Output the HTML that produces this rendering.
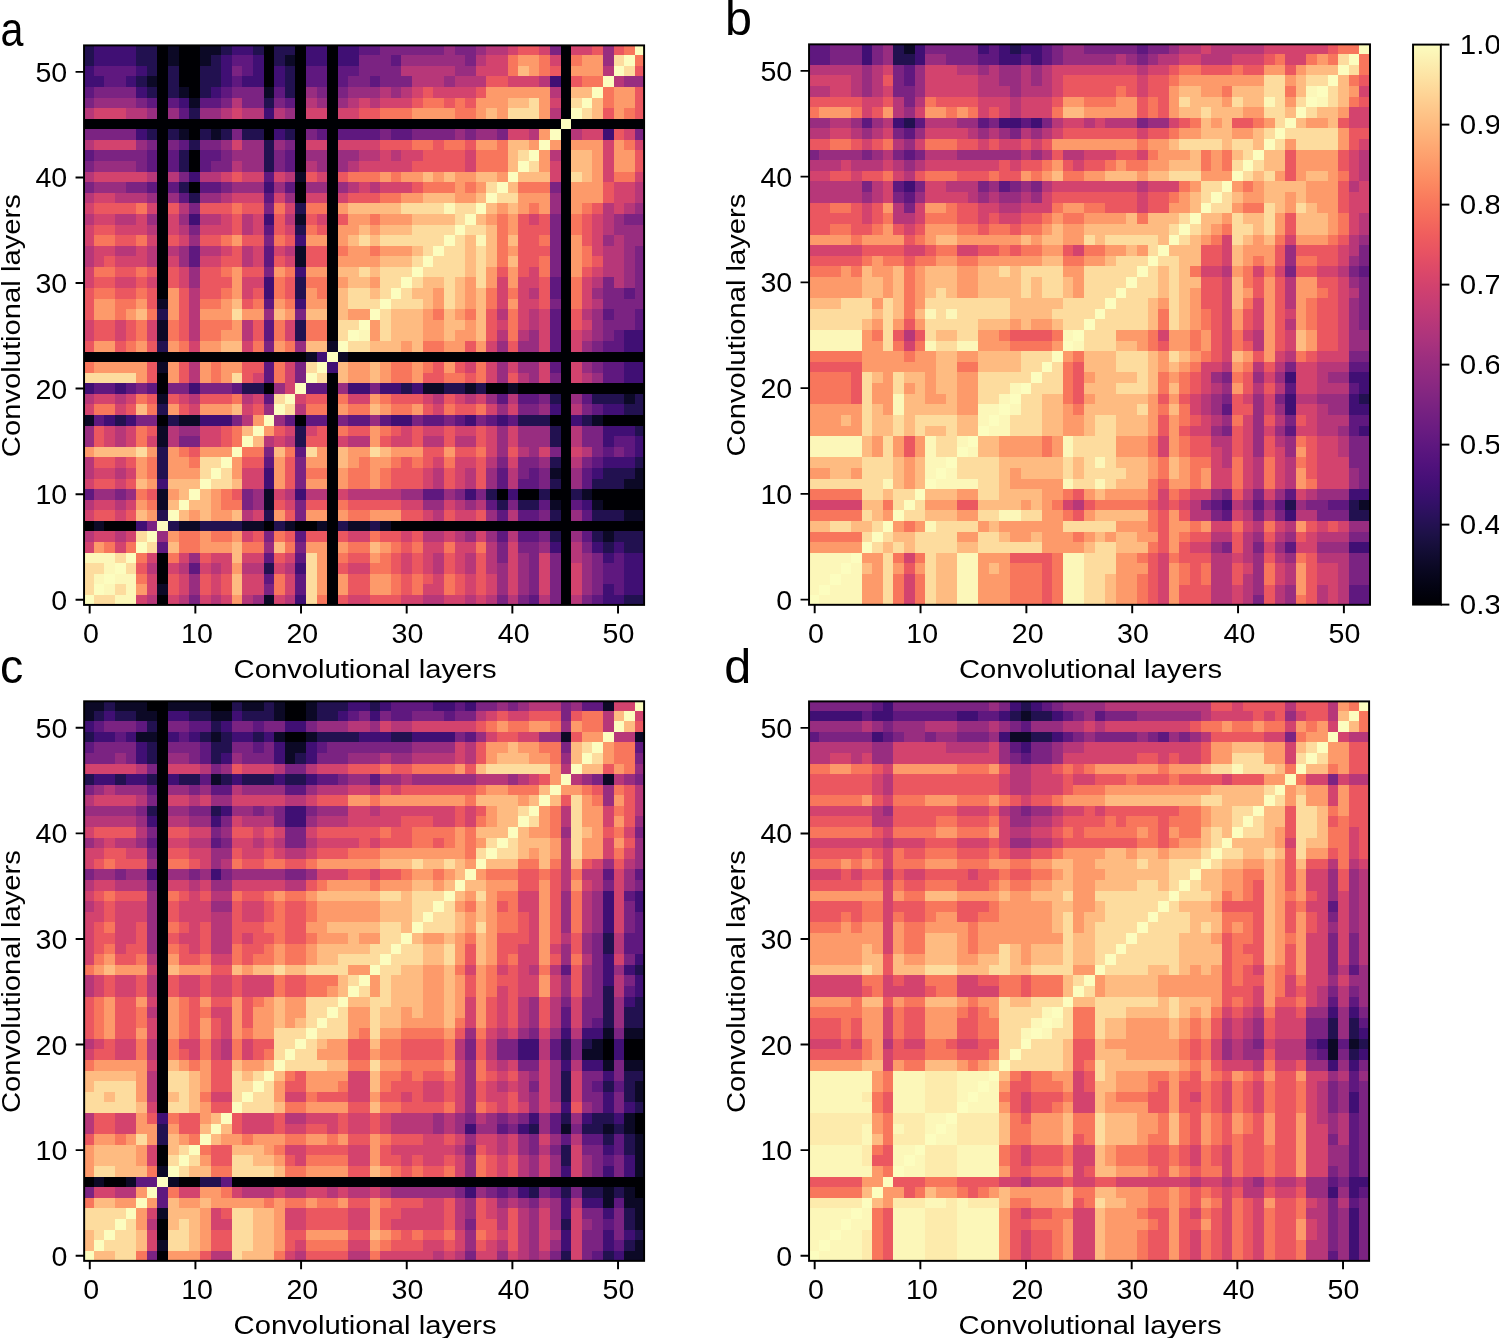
<!DOCTYPE html><html><head><meta charset="utf-8"><style>html,body{margin:0;padding:0;background:#fff;overflow:hidden}svg{display:block;will-change:transform}</style></head><body><svg width="1499" height="1338" viewBox="0 0 1499 1338">
<style>.s0{stroke:#000004}.s1{stroke:#0c0926}.s2{stroke:#221150}.s3{stroke:#400f74}.s4{stroke:#5f187f}.s5{stroke:#7b2382}.s6{stroke:#982d80}.s7{stroke:#b73779}.s8{stroke:#d3436e}.s9{stroke:#eb5760}.sa{stroke:#f8765c}.sb{stroke:#fd9a6a}.sc{stroke:#febb81}.sd{stroke:#fddc9e}.se{stroke:#fcfdbf}.sf{stroke:#fdebac}.sg{stroke:#fcf7b9} path{fill:none} .t{font-family:"Liberation Sans", sans-serif;font-size:27.5px;fill:#000} .l{font-family:"Liberation Sans", sans-serif;font-size:26.5px;fill:#000} .L{font-family:"Liberation Sans", sans-serif;font-size:48.5px;fill:#000} g{shape-rendering:crispEdges}</style>
<rect width="1499" height="1338" fill="#fff"/>
<clipPath id="cpa"><rect x="84.05" y="45.40" width="560.05" height="559.50"/></clipPath>
<g clip-path="url(#cpa)">
<g transform="translate(83.20,44.63) scale(10.6094,10.5840)" stroke-width="1">
<path class="s0" d="M7 0.5h1M9 0.5h2M17 0.5h1M20 0.5h1M23 0.5h1M45 0.5h1M7 1.5h1M9 1.5h2M17 1.5h1M20 1.5h1M23 1.5h1M45 1.5h1M7 2.5h1M9 2.5h2M17 2.5h1M20 2.5h1M23 2.5h1M45 2.5h1M7 3.5h1M9 3.5h2M17 3.5h1M20 3.5h1M23 3.5h1M45 3.5h1M7 4.5h1M10 4.5h1M20 4.5h1M23 4.5h1M45 4.5h1M7 5.5h1M20 5.5h1M23 5.5h1M45 5.5h1M7 6.5h1M20 6.5h1M23 6.5h1M45 6.5h1M0 7.5h45M46 7.5h7M7 8.5h1M10 8.5h1M17 8.5h1M20 8.5h1M23 8.5h1M45 8.5h1M7 9.5h1M20 9.5h1M23 9.5h1M45 9.5h1M7 10.5h1M10 10.5h1M20 10.5h1M23 10.5h1M45 10.5h1M7 11.5h1M10 11.5h1M20 11.5h1M23 11.5h1M45 11.5h1M7 12.5h1M23 12.5h1M45 12.5h1M7 13.5h1M10 13.5h1M20 13.5h1M23 13.5h1M45 13.5h1M7 14.5h1M20 14.5h1M23 14.5h1M45 14.5h1M7 15.5h1M23 15.5h1M45 15.5h1M7 16.5h1M23 16.5h1M45 16.5h1M7 17.5h1M23 17.5h1M45 17.5h1M7 18.5h1M23 18.5h1M45 18.5h1M7 19.5h1M23 19.5h1M45 19.5h1M7 20.5h1M23 20.5h1M45 20.5h1M7 21.5h1M23 21.5h1M45 21.5h1M7 22.5h1M23 22.5h1M45 22.5h1M7 23.5h1M23 23.5h1M45 23.5h1M23 24.5h1M45 24.5h1M23 25.5h1M45 25.5h1M23 26.5h1M45 26.5h1M23 27.5h1M45 27.5h1M45 28.5h1M0 29.5h21M25 29.5h28M45 30.5h1M7 31.5h1M23 31.5h1M45 31.5h1M7 32.5h1M17 32.5h1M23 32.5h1M38 32.5h2M41 32.5h12M23 33.5h1M45 33.5h1M23 34.5h1M45 34.5h1M7 35.5h1M20 35.5h1M23 35.5h1M44 35.5h2M49 35.5h4M23 36.5h1M45 36.5h1M23 37.5h1M45 37.5h1M23 38.5h1M45 38.5h1M23 39.5h1M45 39.5h1M23 40.5h1M45 40.5h1M23 41.5h1M45 41.5h1M23 42.5h1M39 42.5h1M41 42.5h2M44 42.5h2M48 42.5h5M23 43.5h1M45 43.5h1M49 43.5h4M23 44.5h1M45 44.5h1M0 45.5h1M2 45.5h3M17 45.5h1M20 45.5h2M23 45.5h1M29 45.5h24M23 46.5h1M45 46.5h1M23 47.5h1M45 47.5h1M7 48.5h1M23 48.5h1M45 48.5h1M7 49.5h1M23 49.5h1M45 49.5h1M7 50.5h1M23 50.5h1M45 50.5h1M23 51.5h1M45 51.5h1M7 52.5h1M23 52.5h1M45 52.5h1"/>
<path class="s1" d="M8 0.5h1M11 0.5h2M8 1.5h1M11 1.5h1M19 1.5h1M6 3.5h1M9 4.5h1M17 4.5h1M10 5.5h1M9 8.5h1M12 8.5h1M20 12.5h1M20 16.5h1M20 19.5h1M20 20.5h1M7 24.5h1M7 26.5h1M7 27.5h1M23 28.5h1M21 29.5h1M24 29.5h1M7 30.5h1M32 32.5h2M36 32.5h1M40 32.5h1M7 33.5h1M51 33.5h1M0 35.5h1M9 35.5h2M48 35.5h1M7 36.5h1M7 37.5h1M44 40.5h1M52 40.5h1M51 41.5h2M7 42.5h1M17 42.5h1M47 42.5h1M7 43.5h1M17 43.5h1M44 43.5h1M48 43.5h1M51 44.5h2M1 45.5h1M9 45.5h2M15 45.5h2M19 45.5h1M22 45.5h1M25 45.5h2M28 45.5h1M49 46.5h1M7 51.5h1M17 52.5h1"/>
<path class="s2" d="M0 0.5h1M5 0.5h2M13 0.5h1M16 0.5h1M18 0.5h2M0 1.5h1M5 1.5h2M12 1.5h1M18 1.5h1M6 2.5h1M8 2.5h1M11 2.5h2M19 2.5h1M5 3.5h1M8 3.5h1M11 3.5h2M19 3.5h1M6 4.5h1M8 4.5h1M11 4.5h1M19 4.5h1M17 5.5h1M10 6.5h1M6 8.5h1M8 8.5h1M11 8.5h1M13 8.5h1M15 8.5h2M19 8.5h1M10 9.5h1M17 9.5h1M9 10.5h1M17 10.5h1M9 11.5h1M17 11.5h1M9 13.5h1M10 14.5h1M20 15.5h1M20 17.5h1M20 22.5h1M20 23.5h1M7 25.5h1M20 26.5h1M20 27.5h1M7 28.5h1M15 32.5h2M30 32.5h1M34 32.5h2M37 32.5h1M44 33.5h1M48 33.5h3M52 33.5h1M7 34.5h1M51 34.5h2M3 35.5h1M8 35.5h1M41 35.5h3M47 35.5h1M20 36.5h1M44 36.5h1M52 36.5h1M20 37.5h1M44 37.5h1M7 38.5h1M7 39.5h1M44 39.5h1M52 39.5h1M7 40.5h1M49 40.5h3M44 41.5h1M48 41.5h3M38 42.5h1M43 42.5h1M46 42.5h1M39 43.5h1M41 43.5h2M7 44.5h1M17 44.5h1M44 44.5h1M48 44.5h3M8 45.5h1M11 45.5h4M18 45.5h1M24 45.5h1M27 45.5h1M44 46.5h1M48 46.5h1M50 46.5h3M49 47.5h1M51 47.5h2M17 49.5h1M51 52.5h2"/>
<path class="s3" d="M1 0.5h4M14 0.5h2M21 0.5h2M24 0.5h2M1 1.5h4M13 1.5h1M16 1.5h1M21 1.5h2M24 1.5h2M0 2.5h1M5 2.5h1M13 2.5h1M16 2.5h1M18 2.5h1M0 3.5h2M4 3.5h1M13 3.5h1M15 3.5h2M18 3.5h1M44 3.5h1M5 4.5h1M12 4.5h1M9 5.5h1M17 6.5h1M5 8.5h1M18 8.5h1M49 8.5h1M10 12.5h1M17 13.5h1M10 16.5h1M17 16.5h1M20 18.5h1M20 21.5h1M17 22.5h1M17 23.5h1M20 24.5h1M51 27.5h2M51 28.5h2M22 29.5h1M23 30.5h1M51 30.5h2M51 31.5h2M0 32.5h1M3 32.5h1M10 32.5h1M25 32.5h2M28 32.5h2M31 32.5h1M44 34.5h1M49 34.5h2M2 35.5h1M4 35.5h1M11 35.5h3M29 35.5h2M36 35.5h1M39 35.5h1M46 35.5h1M49 36.5h3M49 37.5h1M52 37.5h1M52 38.5h1M49 39.5h3M17 40.5h1M48 40.5h1M7 41.5h1M17 41.5h1M20 42.5h1M36 42.5h1M40 42.5h1M47 43.5h1M5 45.5h1M44 47.5h1M48 47.5h1M50 47.5h1M49 48.5h1M51 48.5h2M20 49.5h1M51 49.5h2M51 50.5h2M49 51.5h1M51 51.5h2M20 52.5h1M49 52.5h2"/>
<path class="s4" d="M26 0.5h2M14 1.5h2M29 1.5h1M1 2.5h4M15 2.5h1M21 2.5h2M24 2.5h2M2 3.5h2M14 3.5h1M21 3.5h2M24 3.5h1M27 3.5h1M0 4.5h1M13 4.5h1M18 4.5h1M6 5.5h1M8 5.5h1M11 5.5h2M19 5.5h1M9 6.5h1M22 8.5h1M24 8.5h4M29 8.5h2M9 9.5h1M0 10.5h1M6 10.5h1M8 10.5h1M11 10.5h2M19 10.5h1M6 11.5h1M8 11.5h1M11 11.5h1M19 11.5h1M17 12.5h1M6 13.5h1M8 13.5h1M11 13.5h2M19 13.5h1M9 14.5h1M17 14.5h1M17 17.5h1M10 19.5h1M17 19.5h1M10 20.5h1M17 20.5h1M44 22.5h1M44 23.5h1M51 23.5h1M17 24.5h1M44 25.5h1M49 25.5h1M52 25.5h1M17 26.5h1M44 26.5h1M52 26.5h1M17 27.5h1M44 27.5h1M50 27.5h1M44 28.5h1M49 28.5h2M17 30.5h1M44 30.5h1M49 30.5h2M17 31.5h1M49 31.5h2M1 32.5h2M4 32.5h1M6 32.5h1M14 32.5h1M21 32.5h2M17 33.5h1M39 33.5h1M41 33.5h2M47 33.5h1M48 34.5h1M1 35.5h1M19 35.5h1M21 35.5h2M25 35.5h2M28 35.5h1M32 35.5h2M35 35.5h1M38 35.5h1M40 35.5h1M50 37.5h2M20 38.5h1M49 38.5h1M51 38.5h1M17 39.5h1M48 39.5h1M39 40.5h1M42 40.5h1M47 40.5h1M39 41.5h1M41 41.5h2M47 41.5h1M0 42.5h1M32 42.5h2M38 43.5h1M43 43.5h1M46 43.5h1M39 44.5h1M41 44.5h2M47 44.5h1M20 46.5h1M39 46.5h1M41 46.5h2M47 46.5h1M7 47.5h1M17 48.5h1M20 48.5h1M50 48.5h1M10 49.5h1M49 49.5h2M17 50.5h1M20 50.5h1M49 50.5h2M20 51.5h1M50 51.5h1M42 52.5h1M48 52.5h1"/>
<path class="s5" d="M28 0.5h6M35 0.5h2M44 0.5h1M26 1.5h3M36 1.5h1M14 2.5h1M26 2.5h4M25 3.5h2M28 3.5h3M1 4.5h4M14 4.5h3M22 4.5h1M24 4.5h1M0 5.5h1M5 5.5h1M13 5.5h1M15 5.5h2M18 5.5h1M0 8.5h5M14 8.5h1M21 8.5h1M28 8.5h1M31 8.5h4M36 8.5h1M39 8.5h1M52 8.5h1M6 9.5h1M8 9.5h1M11 9.5h2M19 9.5h1M1 10.5h5M13 10.5h1M18 10.5h1M0 11.5h1M5 11.5h1M12 11.5h2M18 11.5h1M9 12.5h1M0 13.5h1M4 13.5h2M13 13.5h1M44 13.5h1M10 15.5h1M17 15.5h1M44 16.5h1M51 16.5h2M10 17.5h1M44 17.5h1M17 18.5h1M44 18.5h1M44 19.5h1M52 19.5h1M44 20.5h1M52 20.5h1M17 21.5h1M44 21.5h1M52 21.5h1M49 22.5h1M52 22.5h1M49 23.5h2M52 23.5h1M44 24.5h1M49 24.5h4M20 25.5h1M50 25.5h2M49 26.5h3M49 27.5h1M17 28.5h1M48 28.5h1M20 30.5h1M48 30.5h1M20 31.5h1M44 31.5h1M5 32.5h1M8 32.5h2M11 32.5h3M27 32.5h1M43 33.5h1M41 34.5h2M47 34.5h1M5 35.5h2M14 35.5h1M24 35.5h1M31 35.5h1M34 35.5h1M37 35.5h1M47 36.5h2M9 37.5h2M47 37.5h2M17 38.5h1M44 38.5h1M48 38.5h1M50 38.5h1M20 39.5h1M39 39.5h1M41 39.5h2M47 39.5h1M20 40.5h1M41 40.5h1M43 40.5h1M20 41.5h1M43 41.5h1M3 42.5h1M15 42.5h1M35 42.5h1M37 42.5h1M15 43.5h1M20 43.5h1M40 43.5h1M20 44.5h1M43 44.5h1M6 45.5h1M17 46.5h1M43 46.5h1M20 47.5h1M39 47.5h1M41 47.5h2M47 47.5h1M39 48.5h1M42 48.5h1M44 48.5h1M48 48.5h1M42 49.5h1M44 49.5h1M48 49.5h1M42 50.5h1M44 50.5h1M48 50.5h1M17 51.5h1M42 51.5h1M44 51.5h1M48 51.5h1M10 52.5h1M39 52.5h1M41 52.5h1M44 52.5h1M47 52.5h1"/>
<path class="s6" d="M34 0.5h1M37 0.5h1M49 0.5h1M30 1.5h6M49 1.5h1M35 2.5h2M34 3.5h1M51 3.5h2M21 4.5h1M25 4.5h3M29 4.5h1M1 5.5h4M22 5.5h1M24 5.5h1M6 6.5h1M8 6.5h1M11 6.5h2M19 6.5h1M35 8.5h1M37 8.5h2M5 9.5h1M13 9.5h1M15 9.5h2M18 9.5h1M14 10.5h3M21 10.5h2M24 10.5h2M1 11.5h4M15 11.5h2M22 11.5h1M24 11.5h1M1 13.5h3M14 13.5h3M18 13.5h1M21 13.5h2M24 13.5h1M6 14.5h1M8 14.5h1M11 14.5h2M19 14.5h1M44 14.5h1M44 15.5h1M52 15.5h1M6 16.5h1M9 16.5h1M50 16.5h1M50 17.5h3M10 18.5h1M49 18.5h1M51 18.5h2M9 19.5h1M51 19.5h1M9 20.5h1M51 20.5h1M10 21.5h1M51 21.5h1M10 22.5h1M51 22.5h1M48 23.5h1M17 25.5h1M48 25.5h1M48 26.5h1M42 27.5h1M48 27.5h1M20 28.5h1M39 28.5h1M41 28.5h2M47 28.5h1M39 30.5h1M41 30.5h2M47 30.5h1M39 31.5h1M42 31.5h1M48 31.5h1M18 32.5h1M24 32.5h1M38 33.5h1M46 33.5h1M17 34.5h1M39 34.5h1M43 34.5h1M18 35.5h1M27 35.5h1M0 36.5h1M9 36.5h2M39 36.5h1M41 36.5h3M0 37.5h1M39 37.5h1M41 37.5h3M39 38.5h1M42 38.5h1M43 39.5h1M38 40.5h1M46 40.5h1M38 41.5h1M46 41.5h1M1 42.5h2M4 42.5h1M16 42.5h1M30 42.5h2M34 42.5h1M16 43.5h1M32 43.5h2M36 43.5h1M38 44.5h1M46 44.5h1M7 46.5h1M36 46.5h1M38 46.5h1M46 46.5h1M17 47.5h1M43 47.5h1M10 48.5h1M41 48.5h1M47 48.5h1M39 49.5h1M41 49.5h1M47 49.5h1M10 50.5h1M39 50.5h1M41 50.5h1M47 50.5h1M10 51.5h1M39 51.5h1M41 51.5h1M47 51.5h1M16 52.5h1"/>
<path class="s7" d="M38 0.5h2M37 1.5h1M30 2.5h5M49 2.5h1M31 3.5h3M35 3.5h3M43 3.5h1M50 3.5h1M28 4.5h1M30 4.5h1M44 4.5h1M14 5.5h1M21 5.5h1M25 5.5h1M27 5.5h1M0 6.5h1M4 6.5h2M13 6.5h1M15 6.5h2M18 6.5h1M44 6.5h1M42 8.5h1M46 8.5h1M0 9.5h1M26 10.5h2M29 10.5h1M44 10.5h1M14 11.5h1M21 11.5h1M25 11.5h1M0 12.5h1M6 12.5h1M8 12.5h1M11 12.5h2M19 12.5h1M25 13.5h1M27 13.5h1M52 13.5h1M0 14.5h1M3 14.5h3M13 14.5h1M52 14.5h1M9 15.5h1M49 15.5h1M51 15.5h1M0 16.5h1M3 16.5h2M11 16.5h2M15 16.5h1M19 16.5h1M49 16.5h1M6 17.5h1M9 17.5h1M15 17.5h1M49 17.5h1M50 18.5h1M0 19.5h1M3 19.5h2M6 19.5h1M8 19.5h1M11 19.5h2M15 19.5h1M19 19.5h1M49 19.5h2M0 20.5h1M6 20.5h1M15 20.5h1M49 20.5h2M49 21.5h2M48 22.5h1M50 22.5h1M10 23.5h1M42 23.5h1M10 24.5h1M48 24.5h1M10 25.5h1M39 25.5h1M42 25.5h1M47 25.5h1M10 26.5h1M15 26.5h1M42 26.5h1M10 27.5h1M15 27.5h1M39 27.5h1M41 27.5h1M47 27.5h1M10 30.5h1M10 31.5h1M41 31.5h1M47 31.5h1M0 33.5h1M3 33.5h1M10 33.5h1M15 33.5h1M33 33.5h1M36 33.5h1M40 33.5h1M20 34.5h1M46 34.5h1M15 35.5h1M3 36.5h1M8 36.5h1M46 36.5h1M3 37.5h1M8 37.5h1M17 37.5h1M19 37.5h1M25 37.5h2M32 37.5h2M35 37.5h2M46 37.5h1M41 38.5h1M47 38.5h1M0 39.5h1M38 39.5h1M46 39.5h1M0 40.5h1M3 40.5h1M33 40.5h1M36 40.5h1M40 40.5h1M33 41.5h1M36 41.5h1M40 41.5h1M19 42.5h1M21 42.5h2M25 42.5h5M0 43.5h1M3 43.5h1M35 43.5h1M37 43.5h1M15 44.5h1M33 44.5h1M40 44.5h1M0 46.5h1M3 46.5h1M32 46.5h2M35 46.5h1M40 46.5h1M38 47.5h1M46 47.5h1M33 48.5h1M36 48.5h1M38 48.5h1M46 48.5h1M6 49.5h1M9 49.5h1M12 49.5h1M15 49.5h2M19 49.5h1M33 49.5h1M36 49.5h1M38 49.5h1M6 52.5h1M9 52.5h1M12 52.5h1M15 52.5h1M19 52.5h1M32 52.5h2M36 52.5h1M38 52.5h1M40 52.5h1M43 52.5h1M46 52.5h1"/>
<path class="s8" d="M40 0.5h1M43 0.5h1M46 0.5h2M38 1.5h2M44 1.5h1M37 2.5h3M40 3.5h3M31 4.5h1M33 4.5h4M26 5.5h1M28 5.5h3M44 5.5h1M1 6.5h3M14 6.5h1M21 6.5h2M24 6.5h2M40 8.5h2M47 8.5h2M51 8.5h1M1 9.5h4M14 9.5h1M21 9.5h2M24 9.5h4M49 9.5h1M52 9.5h1M28 10.5h1M30 10.5h2M36 10.5h1M49 10.5h1M26 11.5h5M36 11.5h1M44 11.5h1M49 11.5h1M1 12.5h5M13 12.5h1M15 12.5h2M18 12.5h1M22 12.5h1M44 12.5h1M49 12.5h1M52 12.5h1M26 13.5h1M28 13.5h3M50 13.5h2M1 14.5h2M14 14.5h3M18 14.5h1M21 14.5h2M24 14.5h1M50 14.5h2M0 15.5h1M6 15.5h1M19 15.5h1M50 15.5h1M1 16.5h2M5 16.5h1M8 16.5h1M13 16.5h1M16 16.5h1M22 16.5h1M42 16.5h1M48 16.5h1M0 17.5h1M3 17.5h3M8 17.5h1M11 17.5h3M16 17.5h1M19 17.5h1M48 17.5h1M0 18.5h1M6 18.5h1M9 18.5h1M48 18.5h1M1 19.5h2M5 19.5h1M13 19.5h1M16 19.5h1M18 19.5h1M48 19.5h1M1 20.5h1M3 20.5h3M8 20.5h1M11 20.5h2M16 20.5h1M19 20.5h1M0 21.5h1M9 21.5h1M42 21.5h1M48 21.5h1M0 22.5h1M3 22.5h2M6 22.5h1M9 22.5h1M15 22.5h2M39 22.5h1M41 22.5h2M47 22.5h1M15 23.5h1M39 23.5h1M41 23.5h1M47 23.5h1M39 24.5h1M41 24.5h2M47 24.5h1M41 25.5h1M43 25.5h1M0 26.5h1M3 26.5h1M6 26.5h1M19 26.5h1M39 26.5h1M41 26.5h1M43 26.5h1M47 26.5h1M0 27.5h1M3 27.5h1M6 27.5h1M19 27.5h1M43 27.5h1M46 27.5h1M10 28.5h1M15 28.5h1M38 28.5h1M43 28.5h1M46 28.5h1M19 30.5h1M36 30.5h1M38 30.5h1M40 30.5h1M43 30.5h1M46 30.5h1M16 31.5h1M19 31.5h1M38 31.5h1M43 31.5h1M46 31.5h1M19 32.5h1M1 33.5h2M4 33.5h1M9 33.5h1M16 33.5h1M20 33.5h1M25 33.5h2M32 33.5h1M35 33.5h1M37 33.5h1M0 34.5h1M3 34.5h1M10 34.5h1M15 34.5h1M33 34.5h1M38 34.5h1M40 34.5h1M2 36.5h1M4 36.5h1M11 36.5h2M19 36.5h1M21 36.5h1M30 36.5h1M32 36.5h2M35 36.5h2M38 36.5h1M40 36.5h1M2 37.5h1M4 37.5h1M6 37.5h1M11 37.5h2M18 37.5h1M24 37.5h1M29 37.5h2M38 37.5h1M40 37.5h1M38 38.5h1M43 38.5h1M46 38.5h1M3 39.5h1M33 39.5h1M35 39.5h2M40 39.5h1M1 40.5h2M4 40.5h1M15 40.5h2M32 40.5h1M35 40.5h1M0 41.5h1M3 41.5h1M15 41.5h2M32 41.5h1M35 41.5h1M18 42.5h1M24 42.5h1M1 43.5h2M4 43.5h1M19 43.5h1M30 43.5h2M34 43.5h1M0 44.5h1M3 44.5h1M16 44.5h1M32 44.5h1M35 44.5h2M1 46.5h2M4 46.5h1M15 46.5h1M25 46.5h2M30 46.5h1M34 46.5h1M37 46.5h1M0 47.5h1M3 47.5h1M32 47.5h2M35 47.5h2M40 47.5h1M6 48.5h1M9 48.5h1M12 48.5h2M15 48.5h2M19 48.5h1M30 48.5h1M32 48.5h1M35 48.5h1M40 48.5h1M43 48.5h1M8 49.5h1M11 49.5h1M13 49.5h1M18 49.5h1M25 49.5h2M30 49.5h1M32 49.5h1M35 49.5h1M40 49.5h1M43 49.5h1M46 49.5h1M6 50.5h1M9 50.5h1M12 50.5h1M15 50.5h2M19 50.5h1M33 50.5h1M36 50.5h1M38 50.5h1M40 50.5h1M43 50.5h1M46 50.5h1M6 51.5h1M9 51.5h1M12 51.5h1M15 51.5h2M19 51.5h1M32 51.5h2M36 51.5h1M38 51.5h1M40 51.5h1M43 51.5h1M46 51.5h1M5 52.5h1M8 52.5h1M11 52.5h1M13 52.5h1M18 52.5h1M25 52.5h2M30 52.5h2M34 52.5h2M37 52.5h1"/>
<path class="s9" d="M41 0.5h2M48 0.5h1M50 0.5h1M44 2.5h1M52 2.5h1M38 3.5h2M46 3.5h1M32 4.5h1M37 4.5h1M52 4.5h1M31 5.5h1M34 5.5h1M36 5.5h1M52 5.5h1M26 6.5h2M49 6.5h1M52 6.5h1M50 8.5h1M28 9.5h3M33 9.5h1M36 9.5h1M32 10.5h4M52 10.5h1M31 11.5h5M52 11.5h1M14 12.5h1M21 12.5h1M24 12.5h1M31 13.5h1M49 13.5h1M25 14.5h3M49 14.5h1M1 15.5h4M8 15.5h1M11 15.5h3M15 15.5h2M48 15.5h1M14 16.5h1M18 16.5h1M21 16.5h1M24 16.5h1M41 16.5h1M43 16.5h1M47 16.5h1M1 17.5h2M14 17.5h1M18 17.5h1M22 17.5h1M41 17.5h3M47 17.5h1M3 18.5h2M8 18.5h1M11 18.5h2M15 18.5h2M19 18.5h1M41 18.5h2M47 18.5h1M14 19.5h1M21 19.5h2M41 19.5h3M2 20.5h1M13 20.5h2M18 20.5h1M21 20.5h2M41 20.5h2M48 20.5h1M3 21.5h2M6 21.5h1M8 21.5h1M11 21.5h2M15 21.5h2M39 21.5h1M41 21.5h1M47 21.5h1M1 22.5h2M5 22.5h1M8 22.5h1M11 22.5h3M19 22.5h1M43 22.5h1M0 23.5h1M3 23.5h2M6 23.5h1M9 23.5h1M11 23.5h2M16 23.5h1M19 23.5h1M43 23.5h1M0 24.5h1M6 24.5h1M9 24.5h1M15 24.5h1M43 24.5h1M0 25.5h1M9 25.5h1M38 25.5h1M46 25.5h1M1 26.5h2M4 26.5h1M9 26.5h1M16 26.5h1M38 26.5h1M46 26.5h1M1 27.5h2M4 27.5h1M9 27.5h1M16 27.5h1M38 27.5h1M0 28.5h1M3 28.5h1M6 28.5h1M36 28.5h1M40 28.5h1M6 30.5h1M9 30.5h1M15 30.5h2M33 30.5h1M35 30.5h1M6 31.5h1M9 31.5h1M15 31.5h1M32 31.5h2M36 31.5h1M40 31.5h1M6 33.5h1M8 33.5h1M11 33.5h3M21 33.5h2M29 33.5h3M34 33.5h1M4 34.5h1M9 34.5h1M16 34.5h1M32 34.5h1M35 34.5h2M1 36.5h1M6 36.5h1M13 36.5h1M18 36.5h1M22 36.5h1M25 36.5h2M29 36.5h1M31 36.5h1M34 36.5h1M37 36.5h1M1 37.5h1M13 37.5h1M21 37.5h2M28 37.5h1M31 37.5h1M34 37.5h1M37 37.5h1M10 38.5h1M32 38.5h2M35 38.5h2M40 38.5h1M1 39.5h2M4 39.5h1M15 39.5h2M19 39.5h1M30 39.5h1M32 39.5h1M37 39.5h1M19 40.5h1M29 40.5h3M34 40.5h1M37 40.5h1M1 41.5h2M4 41.5h1M19 41.5h1M29 41.5h3M34 41.5h1M37 41.5h1M6 42.5h1M14 42.5h1M18 43.5h1M21 43.5h2M25 43.5h5M1 44.5h2M4 44.5h1M19 44.5h1M30 44.5h2M34 44.5h1M37 44.5h1M16 46.5h1M19 46.5h1M21 46.5h2M24 46.5h1M28 46.5h2M31 46.5h1M30 47.5h1M11 48.5h1M18 48.5h1M25 48.5h2M29 48.5h1M31 48.5h1M34 48.5h1M37 48.5h1M5 49.5h1M24 49.5h1M29 49.5h1M31 49.5h1M34 49.5h1M37 49.5h1M8 50.5h1M11 50.5h1M13 50.5h1M25 50.5h2M30 50.5h1M32 50.5h1M35 50.5h1M37 50.5h1M8 51.5h1M11 51.5h1M13 51.5h1M25 51.5h2M30 51.5h1M35 51.5h1M37 51.5h1M24 52.5h1M27 52.5h3"/>
<path class="sa" d="M51 0.5h1M40 1.5h1M43 1.5h1M46 1.5h1M52 1.5h1M40 2.5h1M43 2.5h1M47 3.5h2M49 4.5h1M32 5.5h2M35 5.5h1M49 5.5h1M28 6.5h3M35 6.5h2M51 6.5h1M31 9.5h2M34 9.5h2M39 9.5h1M51 9.5h1M37 10.5h3M37 11.5h3M25 12.5h3M29 12.5h1M50 12.5h2M32 13.5h3M36 13.5h1M41 13.5h3M28 14.5h2M5 15.5h1M14 15.5h1M18 15.5h1M21 15.5h2M42 15.5h1M47 15.5h1M27 16.5h1M39 16.5h1M46 16.5h1M21 17.5h1M39 17.5h1M46 17.5h1M1 18.5h2M5 18.5h1M13 18.5h1M18 18.5h1M39 18.5h1M43 18.5h1M24 19.5h1M27 19.5h1M39 19.5h1M47 19.5h1M39 20.5h1M43 20.5h1M47 20.5h1M1 21.5h2M5 21.5h1M13 21.5h1M19 21.5h1M43 21.5h1M18 22.5h1M21 22.5h2M46 22.5h1M1 23.5h2M5 23.5h1M13 23.5h1M18 23.5h1M22 23.5h1M38 23.5h1M40 23.5h1M46 23.5h1M3 24.5h2M11 24.5h2M16 24.5h1M19 24.5h1M38 24.5h1M46 24.5h1M3 25.5h1M6 25.5h1M33 25.5h1M36 25.5h1M40 25.5h1M5 26.5h1M8 26.5h1M11 26.5h3M18 26.5h1M21 26.5h2M40 26.5h1M5 27.5h1M8 27.5h1M11 27.5h2M18 27.5h1M21 27.5h2M40 27.5h1M4 28.5h1M9 28.5h1M16 28.5h1M19 28.5h1M32 28.5h2M0 30.5h1M12 30.5h1M18 30.5h1M29 30.5h2M32 30.5h1M37 30.5h1M12 31.5h1M18 31.5h1M29 31.5h2M34 31.5h2M37 31.5h1M5 33.5h1M14 33.5h1M24 33.5h1M28 33.5h1M1 34.5h2M6 34.5h1M21 34.5h2M25 34.5h2M29 34.5h2M34 34.5h1M37 34.5h1M5 36.5h1M14 36.5h1M24 36.5h1M28 36.5h1M5 37.5h1M14 37.5h1M9 38.5h1M15 38.5h2M19 38.5h1M37 38.5h1M6 39.5h1M10 39.5h1M26 39.5h1M29 39.5h1M31 39.5h1M34 39.5h1M6 40.5h1M21 40.5h2M25 40.5h2M28 40.5h1M25 41.5h2M28 41.5h1M5 42.5h1M13 42.5h1M6 43.5h1M13 43.5h2M24 43.5h1M25 44.5h2M9 46.5h2M12 46.5h2M18 46.5h1M27 46.5h1M2 47.5h1M4 47.5h1M9 47.5h2M15 47.5h2M19 47.5h1M25 47.5h2M29 47.5h1M31 47.5h1M34 47.5h1M37 47.5h1M5 48.5h1M8 48.5h1M24 48.5h1M28 48.5h1M27 49.5h2M5 50.5h1M18 50.5h1M29 50.5h1M31 50.5h1M34 50.5h1M18 51.5h1M29 51.5h1M31 51.5h1M34 51.5h1M22 52.5h1"/>
<path class="sb" d="M41 1.5h2M47 1.5h2M42 2.5h1M46 2.5h3M38 4.5h6M50 4.5h2M37 5.5h3M43 5.5h1M50 5.5h2M31 6.5h4M37 6.5h1M39 6.5h1M43 6.5h1M50 6.5h1M43 8.5h1M37 9.5h2M42 9.5h1M44 9.5h1M46 9.5h3M50 9.5h1M43 10.5h1M48 10.5h1M50 10.5h2M43 11.5h1M48 11.5h1M50 11.5h2M28 12.5h1M30 12.5h2M33 12.5h1M35 12.5h2M39 12.5h1M48 12.5h1M35 13.5h1M37 13.5h1M46 13.5h3M30 14.5h2M35 14.5h2M41 14.5h3M46 14.5h3M24 15.5h1M39 15.5h1M41 15.5h1M43 15.5h1M46 15.5h1M25 16.5h2M28 16.5h3M38 16.5h1M40 16.5h1M24 17.5h2M27 17.5h1M40 17.5h1M14 18.5h1M21 18.5h2M24 18.5h1M46 18.5h1M25 19.5h2M28 19.5h3M40 19.5h1M46 19.5h1M24 20.5h4M46 20.5h1M14 21.5h1M18 21.5h1M21 21.5h2M38 21.5h1M40 21.5h1M46 21.5h1M14 22.5h1M24 22.5h1M27 22.5h1M36 22.5h1M38 22.5h1M40 22.5h1M8 23.5h1M14 23.5h1M21 23.5h1M33 23.5h1M36 23.5h1M1 24.5h2M5 24.5h1M8 24.5h1M13 24.5h1M18 24.5h1M21 24.5h2M33 24.5h1M36 24.5h1M40 24.5h1M1 25.5h2M4 25.5h1M8 25.5h1M11 25.5h3M15 25.5h2M19 25.5h1M25 25.5h2M32 25.5h1M35 25.5h1M14 26.5h1M27 26.5h1M32 26.5h2M36 26.5h1M13 27.5h2M27 27.5h1M32 27.5h2M35 27.5h2M1 28.5h2M5 28.5h1M8 28.5h1M11 28.5h2M18 28.5h1M30 28.5h1M34 28.5h2M37 28.5h1M1 30.5h5M8 30.5h1M11 30.5h1M13 30.5h2M25 30.5h2M28 30.5h1M31 30.5h1M34 30.5h1M5 31.5h1M8 31.5h1M11 31.5h1M13 31.5h1M25 31.5h2M28 31.5h1M31 31.5h1M27 33.5h1M8 34.5h1M11 34.5h3M24 34.5h1M28 34.5h1M31 34.5h1M16 35.5h1M17 36.5h1M27 36.5h1M27 37.5h1M0 38.5h1M6 38.5h1M8 38.5h1M11 38.5h3M22 38.5h1M25 38.5h2M29 38.5h3M34 38.5h1M5 39.5h1M8 39.5h2M14 39.5h1M18 39.5h1M21 39.5h2M25 39.5h1M27 39.5h2M5 40.5h1M8 40.5h3M14 40.5h1M18 40.5h1M24 40.5h1M27 40.5h1M6 41.5h1M18 41.5h1M21 41.5h2M24 41.5h1M27 41.5h1M8 42.5h1M12 42.5h1M5 43.5h1M12 43.5h1M6 44.5h1M10 44.5h1M12 44.5h2M18 44.5h1M21 44.5h2M24 44.5h1M27 44.5h3M8 46.5h1M11 46.5h1M14 46.5h1M1 47.5h1M11 47.5h3M21 47.5h2M24 47.5h1M28 47.5h1M22 48.5h1M27 48.5h1M14 49.5h1M22 49.5h1M22 50.5h1M24 50.5h1M27 50.5h2M5 51.5h1M22 51.5h1M24 51.5h1M27 51.5h2M14 52.5h1"/>
<path class="sc" d="M41 2.5h1M46 4.5h2M40 5.5h2M48 5.5h1M38 6.5h1M48 6.5h1M40 9.5h2M40 10.5h1M46 10.5h2M40 11.5h1M46 11.5h2M32 12.5h1M34 12.5h1M37 12.5h2M41 12.5h3M47 12.5h1M40 13.5h1M32 14.5h3M37 14.5h1M25 15.5h5M38 15.5h1M40 15.5h1M31 16.5h4M37 16.5h1M26 17.5h1M28 17.5h3M38 17.5h1M25 18.5h1M27 18.5h1M36 18.5h1M38 18.5h1M40 18.5h1M31 19.5h1M36 19.5h1M38 19.5h1M28 20.5h3M36 20.5h1M38 20.5h1M40 20.5h1M24 21.5h2M27 21.5h1M36 21.5h1M25 22.5h2M32 22.5h2M35 22.5h1M24 23.5h1M27 23.5h1M31 23.5h2M35 23.5h1M37 23.5h1M14 24.5h1M24 24.5h1M32 24.5h1M35 24.5h1M37 24.5h1M5 25.5h1M18 25.5h1M21 25.5h2M24 25.5h1M29 25.5h3M34 25.5h1M37 25.5h1M29 26.5h3M34 26.5h2M37 26.5h1M29 27.5h3M34 27.5h1M37 27.5h1M13 28.5h2M21 28.5h2M27 28.5h3M31 28.5h1M24 30.5h1M27 30.5h1M24 31.5h1M27 31.5h1M5 34.5h1M14 34.5h1M27 34.5h1M15 36.5h1M16 37.5h1M1 38.5h4M18 38.5h1M24 38.5h1M28 38.5h1M24 39.5h1M5 41.5h1M8 41.5h3M14 41.5h1M9 42.5h1M11 42.5h1M8 43.5h1M10 43.5h2M5 44.5h1M9 44.5h1M11 44.5h1M14 44.5h1M8 47.5h1M14 47.5h1M18 47.5h1M27 47.5h1M14 48.5h1M14 50.5h1M14 51.5h1"/>
<path class="sd" d="M50 1.5h1M51 2.5h1M42 5.5h1M46 5.5h1M40 6.5h3M47 6.5h1M41 10.5h1M42 11.5h1M46 12.5h1M38 13.5h1M39 14.5h2M30 15.5h4M35 15.5h2M35 16.5h1M31 17.5h4M36 17.5h2M26 18.5h1M28 18.5h6M35 18.5h1M32 19.5h1M34 19.5h2M37 19.5h1M31 20.5h1M33 20.5h3M37 20.5h1M26 21.5h1M28 21.5h3M32 21.5h4M37 21.5h1M28 22.5h2M31 22.5h1M34 22.5h1M37 22.5h1M25 23.5h2M28 23.5h1M30 23.5h1M34 23.5h1M25 24.5h3M29 24.5h3M34 24.5h1M14 25.5h1M28 25.5h1M24 26.5h2M28 26.5h1M24 27.5h1M28 27.5h1M25 28.5h2M21 30.5h1M0 31.5h5M14 31.5h1M22 31.5h1M18 33.5h1M19 34.5h1M5 38.5h1M21 38.5h1M27 38.5h1M11 39.5h2M11 40.5h1M13 40.5h1M12 41.5h2M5 46.5h1M6 47.5h1M3 48.5h1M21 48.5h1M0 49.5h2M4 49.5h1M21 49.5h1M0 50.5h1M21 50.5h1M0 51.5h1M3 51.5h1M21 51.5h1M1 52.5h2M21 52.5h1"/>
<path class="se" d="M52 0.5h1M51 1.5h1M50 2.5h1M49 3.5h1M48 4.5h1M47 5.5h1M46 6.5h1M45 7.5h1M44 8.5h1M43 9.5h1M42 10.5h1M41 11.5h1M40 12.5h1M39 13.5h1M38 14.5h1M37 15.5h1M36 16.5h1M35 17.5h1M34 18.5h1M33 19.5h1M32 20.5h1M31 21.5h1M30 22.5h1M29 23.5h1M28 24.5h1M27 25.5h1M26 26.5h1M25 27.5h1M24 28.5h1M23 29.5h1M22 30.5h1M21 31.5h1M20 32.5h1M19 33.5h1M18 34.5h1M17 35.5h1M16 36.5h1M15 37.5h1M14 38.5h1M13 39.5h1M12 40.5h1M11 41.5h1M10 42.5h1M9 43.5h1M8 44.5h1M7 45.5h1M6 46.5h1M5 47.5h1M4 48.5h1M3 49.5h1M2 50.5h1M1 51.5h1M0 52.5h1"/>
<path class="sg" d="M34 15.5h1M37 18.5h1M26 27.5h1M0 48.5h3M2 49.5h1M1 50.5h1M3 50.5h2M2 51.5h1M4 51.5h1M3 52.5h2"/>
</g>
</g>
<rect x="84.05" y="45.40" width="560.05" height="559.50" fill="none" stroke="#000" stroke-width="1.95"/>
<path d="M89.68 604.90V613.40M84.05 599.72H75.55" stroke="#000" stroke-width="1.95"/>
<text x="91.08" y="642.60" text-anchor="middle" class="t" textLength="15.90" lengthAdjust="spacingAndGlyphs">0</text>
<text x="67.25" y="609.72" text-anchor="end" class="t" textLength="15.90" lengthAdjust="spacingAndGlyphs">0</text>
<path d="M195.35 604.90V613.40M84.05 494.16H75.55" stroke="#000" stroke-width="1.95"/>
<text x="197.00" y="642.60" text-anchor="middle" class="t" textLength="31.80" lengthAdjust="spacingAndGlyphs">10</text>
<text x="67.25" y="504.16" text-anchor="end" class="t" textLength="31.80" lengthAdjust="spacingAndGlyphs">10</text>
<path d="M301.02 604.90V613.40M84.05 388.59H75.55" stroke="#000" stroke-width="1.95"/>
<text x="302.32" y="642.60" text-anchor="middle" class="t" textLength="31.80" lengthAdjust="spacingAndGlyphs">20</text>
<text x="67.25" y="398.59" text-anchor="end" class="t" textLength="31.80" lengthAdjust="spacingAndGlyphs">20</text>
<path d="M406.69 604.90V613.40M84.05 283.02H75.55" stroke="#000" stroke-width="1.95"/>
<text x="407.49" y="642.60" text-anchor="middle" class="t" textLength="31.80" lengthAdjust="spacingAndGlyphs">30</text>
<text x="67.25" y="293.02" text-anchor="end" class="t" textLength="31.80" lengthAdjust="spacingAndGlyphs">30</text>
<path d="M512.36 604.90V613.40M84.05 177.46H75.55" stroke="#000" stroke-width="1.95"/>
<text x="513.76" y="642.60" text-anchor="middle" class="t" textLength="31.80" lengthAdjust="spacingAndGlyphs">40</text>
<text x="67.25" y="187.46" text-anchor="end" class="t" textLength="31.80" lengthAdjust="spacingAndGlyphs">40</text>
<path d="M618.03 604.90V613.40M84.05 71.89H75.55" stroke="#000" stroke-width="1.95"/>
<text x="618.53" y="642.60" text-anchor="middle" class="t" textLength="31.80" lengthAdjust="spacingAndGlyphs">50</text>
<text x="67.25" y="81.89" text-anchor="end" class="t" textLength="31.80" lengthAdjust="spacingAndGlyphs">50</text>
<text x="365.08" y="677.60" text-anchor="middle" class="l" textLength="263" lengthAdjust="spacingAndGlyphs">Convolutional layers</text>
<text transform="translate(19.55,325.65) rotate(-90)" text-anchor="middle" class="l" textLength="263" lengthAdjust="spacingAndGlyphs">Convolutional layers</text>
<clipPath id="cpb"><rect x="809.05" y="44.35" width="560.95" height="560.45"/></clipPath>
<g clip-path="url(#cpb)">
<g transform="translate(808.76,43.58) scale(10.5883,10.6091)" stroke-width="1">
<path class="s1" d="M9 0.5h1M52 43.5h1"/>
<path class="s2" d="M8 0.5h1M19 0.5h1M8 1.5h2M9 7.5h1M52 33.5h1M45 43.5h1M51 43.5h1M51 44.5h2"/>
<path class="s3" d="M5 0.5h1M10 0.5h1M16 0.5h1M18 0.5h1M20 0.5h2M5 1.5h1M10 1.5h1M18 1.5h2M21 1.5h1M8 7.5h1M18 7.5h2M21 7.5h1M9 13.5h1M45 31.5h1M51 31.5h2M52 32.5h1M45 33.5h1M51 33.5h1M45 34.5h1M51 34.5h2M52 36.5h1M51 42.5h2M39 43.5h1M45 44.5h1M51 47.5h2"/>
<path class="s4" d="M0 0.5h2M17 0.5h1M22 0.5h1M31 0.5h1M0 1.5h2M16 1.5h2M20 1.5h1M22 1.5h1M9 2.5h1M9 3.5h1M5 7.5h1M10 7.5h1M16 7.5h1M20 7.5h1M9 8.5h1M9 10.5h1M8 13.5h1M18 13.5h1M9 14.5h1M52 21.5h1M51 30.5h2M45 32.5h1M51 32.5h1M39 34.5h1M51 35.5h2M45 36.5h1M51 36.5h1M45 42.5h1M38 43.5h1M42 43.5h1M44 43.5h1M49 43.5h2M39 44.5h1M45 47.5h1M51 51.5h2M51 52.5h2"/>
<path class="s5" d="M2 0.5h3M6 0.5h1M11 0.5h5M23 0.5h1M26 0.5h5M32 0.5h2M2 1.5h3M6 1.5h1M13 1.5h3M23 1.5h1M31 1.5h1M8 2.5h1M8 3.5h1M8 4.5h2M9 5.5h1M17 7.5h1M22 7.5h1M31 7.5h1M8 8.5h1M19 8.5h1M0 10.5h1M5 10.5h1M8 10.5h1M10 10.5h1M5 13.5h1M10 13.5h1M16 13.5h1M19 13.5h1M21 13.5h1M8 14.5h1M9 15.5h1M52 19.5h1M52 20.5h1M45 21.5h1M51 21.5h1M52 22.5h1M52 23.5h1M52 24.5h1M52 25.5h1M52 26.5h1M51 29.5h2M45 30.5h1M39 31.5h1M39 33.5h1M44 33.5h1M45 35.5h1M39 36.5h1M51 37.5h2M51 38.5h2M51 39.5h2M52 40.5h1M52 41.5h1M39 42.5h1M42 42.5h1M37 43.5h1M47 43.5h2M38 44.5h1M42 44.5h1M44 44.5h1M48 44.5h3M51 46.5h2M39 47.5h1M42 47.5h1M51 48.5h2M51 49.5h2M51 50.5h2M42 52.5h1"/>
<path class="s6" d="M7 0.5h1M24 0.5h2M34 0.5h1M7 1.5h1M11 1.5h2M24 1.5h5M30 1.5h1M32 1.5h1M5 2.5h1M10 2.5h1M16 2.5h1M18 2.5h2M21 2.5h1M5 3.5h1M10 3.5h1M18 3.5h2M21 3.5h1M5 4.5h1M10 4.5h1M19 4.5h1M9 6.5h1M0 7.5h2M4 7.5h1M6 7.5h1M14 7.5h2M32 7.5h2M5 8.5h1M10 8.5h1M16 8.5h1M18 8.5h1M21 8.5h1M9 9.5h1M1 10.5h4M6 10.5h1M14 10.5h6M21 10.5h1M9 11.5h1M17 13.5h1M20 13.5h1M5 14.5h1M10 14.5h1M16 14.5h1M18 14.5h2M21 14.5h1M52 18.5h1M45 19.5h1M45 20.5h1M51 20.5h1M51 22.5h1M51 24.5h1M51 25.5h1M51 26.5h1M51 27.5h2M51 28.5h2M38 31.5h1M42 31.5h1M44 31.5h1M49 31.5h2M39 32.5h1M38 33.5h1M42 33.5h1M48 33.5h3M38 34.5h1M42 34.5h1M44 34.5h1M49 34.5h2M39 35.5h1M42 35.5h1M38 36.5h1M42 36.5h1M44 36.5h1M50 36.5h1M42 37.5h1M45 37.5h1M42 38.5h1M45 38.5h1M51 40.5h1M51 41.5h1M38 42.5h1M44 42.5h1M48 42.5h3M41 43.5h1M43 43.5h1M46 43.5h1M51 45.5h2M42 46.5h1M45 46.5h1M38 47.5h1M44 47.5h1M48 47.5h3M42 48.5h1M45 48.5h1M42 49.5h1M42 50.5h1M42 51.5h1M45 51.5h1M45 52.5h1"/>
<path class="s7" d="M35 0.5h2M38 0.5h5M29 1.5h1M33 1.5h2M37 1.5h3M0 2.5h5M6 2.5h1M14 2.5h2M17 2.5h1M20 2.5h1M22 2.5h1M31 2.5h1M4 3.5h1M6 3.5h1M16 3.5h2M20 3.5h1M22 3.5h1M0 4.5h2M4 4.5h1M6 4.5h1M16 4.5h3M20 4.5h3M8 5.5h1M10 5.5h1M19 5.5h1M8 6.5h1M19 6.5h1M2 7.5h2M7 7.5h1M11 7.5h3M23 7.5h1M26 7.5h1M28 7.5h3M0 8.5h2M4 8.5h1M6 8.5h1M15 8.5h1M17 8.5h1M20 8.5h1M22 8.5h1M8 9.5h1M7 10.5h1M11 10.5h3M20 10.5h1M22 10.5h1M24 10.5h2M52 10.5h1M0 11.5h3M4 11.5h3M8 11.5h1M10 11.5h1M52 11.5h1M9 12.5h1M52 12.5h1M0 13.5h5M6 13.5h1M13 13.5h3M22 13.5h1M31 13.5h1M51 13.5h1M0 14.5h5M6 14.5h1M15 14.5h1M17 14.5h1M20 14.5h1M8 15.5h1M18 15.5h2M8 16.5h2M52 16.5h1M52 17.5h1M51 18.5h1M51 19.5h1M39 21.5h1M50 21.5h1M45 22.5h1M45 23.5h1M51 23.5h1M45 24.5h1M45 26.5h1M9 27.5h1M42 27.5h1M42 28.5h1M45 29.5h1M39 30.5h1M42 30.5h1M44 30.5h1M48 30.5h3M48 31.5h1M38 32.5h1M42 32.5h1M44 32.5h1M48 32.5h3M37 33.5h1M46 33.5h2M37 34.5h1M48 34.5h1M38 35.5h1M44 35.5h1M48 35.5h3M48 36.5h2M38 37.5h2M44 37.5h1M50 37.5h1M39 38.5h1M50 38.5h1M39 39.5h1M42 39.5h1M45 39.5h1M42 40.5h1M45 40.5h1M42 41.5h1M45 41.5h1M41 42.5h1M47 42.5h1M25 43.5h1M36 43.5h1M40 43.5h1M36 44.5h2M41 44.5h1M43 44.5h1M46 44.5h2M42 45.5h1M45 45.5h1M38 46.5h2M41 46.5h1M44 46.5h1M48 46.5h3M41 47.5h1M38 48.5h2M41 48.5h1M44 48.5h1M48 48.5h3M38 49.5h2M45 49.5h1M50 49.5h1M38 50.5h2M41 50.5h1M45 50.5h1M50 50.5h1M38 51.5h2M41 51.5h1M44 51.5h1M48 51.5h1M50 51.5h1M38 52.5h2M41 52.5h1M44 52.5h1M48 52.5h1M50 52.5h1"/>
<path class="s8" d="M37 0.5h1M43 0.5h6M35 1.5h2M40 1.5h3M45 1.5h2M7 2.5h1M11 2.5h3M23 2.5h8M32 2.5h2M0 3.5h4M11 3.5h5M23 3.5h1M31 3.5h1M2 4.5h2M7 4.5h1M11 4.5h5M23 4.5h1M31 4.5h1M52 4.5h1M5 5.5h2M16 5.5h3M20 5.5h3M5 6.5h1M10 6.5h1M16 6.5h1M18 6.5h1M20 6.5h3M51 6.5h2M24 7.5h2M27 7.5h1M34 7.5h1M51 7.5h2M2 8.5h2M7 8.5h1M11 8.5h4M23 8.5h1M31 8.5h1M5 9.5h1M10 9.5h1M16 9.5h1M18 9.5h2M21 9.5h1M52 9.5h1M26 10.5h3M31 10.5h1M51 10.5h1M3 11.5h1M7 11.5h1M11 11.5h7M19 11.5h1M25 11.5h1M51 11.5h1M0 12.5h2M4 12.5h1M8 12.5h1M51 12.5h1M7 13.5h1M11 13.5h2M23 13.5h8M32 13.5h3M52 13.5h1M7 14.5h1M11 14.5h4M22 14.5h1M31 14.5h1M51 14.5h2M5 15.5h1M10 15.5h1M16 15.5h2M20 15.5h3M31 15.5h1M51 15.5h2M5 16.5h1M10 16.5h1M16 16.5h1M18 16.5h2M51 16.5h1M9 17.5h1M51 17.5h1M39 18.5h1M45 18.5h1M0 19.5h5M9 19.5h2M14 19.5h2M25 19.5h1M39 19.5h1M50 19.5h1M39 20.5h1M50 20.5h1M37 21.5h2M42 21.5h1M44 21.5h1M48 21.5h2M39 22.5h1M50 22.5h1M39 23.5h1M50 23.5h1M39 24.5h1M42 24.5h1M50 24.5h1M39 25.5h1M42 25.5h1M45 25.5h1M50 25.5h1M39 26.5h1M42 26.5h1M50 26.5h1M33 27.5h1M39 27.5h1M41 27.5h1M45 27.5h1M50 27.5h1M9 28.5h1M39 28.5h1M45 28.5h1M50 28.5h1M39 29.5h1M44 29.5h1M48 29.5h3M37 30.5h2M46 30.5h2M37 31.5h1M43 31.5h1M46 31.5h2M37 32.5h1M46 32.5h2M36 33.5h1M41 33.5h1M43 33.5h1M36 34.5h1M43 34.5h1M46 34.5h2M37 35.5h1M41 35.5h1M47 35.5h1M36 36.5h2M41 36.5h1M43 36.5h1M46 36.5h2M33 37.5h1M41 37.5h1M48 37.5h2M33 38.5h1M38 38.5h1M41 38.5h1M44 38.5h1M48 38.5h2M38 39.5h1M41 39.5h1M44 39.5h1M48 39.5h3M38 40.5h2M41 40.5h1M44 40.5h1M48 40.5h3M38 41.5h2M41 41.5h1M44 41.5h1M48 41.5h3M33 42.5h1M36 42.5h2M43 42.5h1M46 42.5h1M0 43.5h5M24 43.5h1M33 43.5h1M35 43.5h1M40 44.5h1M38 45.5h2M41 45.5h1M44 45.5h1M48 45.5h1M50 45.5h1M47 46.5h1M36 47.5h2M43 47.5h1M46 47.5h2M9 48.5h1M33 48.5h1M40 48.5h1M33 49.5h1M41 49.5h1M44 49.5h1M48 49.5h2M9 50.5h1M33 50.5h1M44 50.5h1M48 50.5h2M9 51.5h1M33 51.5h1M40 51.5h1M49 51.5h1M9 52.5h1M33 52.5h1M40 52.5h1M49 52.5h1"/>
<path class="s9" d="M49 0.5h1M43 1.5h1M34 2.5h1M37 2.5h3M41 2.5h2M45 2.5h1M7 3.5h1M24 3.5h7M32 3.5h2M52 3.5h1M24 4.5h5M30 4.5h1M32 4.5h2M0 5.5h5M7 5.5h1M12 5.5h4M23 5.5h1M31 5.5h1M33 5.5h1M52 5.5h1M6 6.5h1M17 6.5h1M31 6.5h1M33 6.5h1M35 7.5h1M40 7.5h2M50 7.5h1M24 8.5h7M32 8.5h2M51 8.5h2M0 9.5h2M4 9.5h1M6 9.5h1M14 9.5h2M17 9.5h1M20 9.5h1M22 9.5h1M51 9.5h1M23 10.5h1M29 10.5h2M45 10.5h1M50 10.5h1M18 11.5h1M20 11.5h2M24 11.5h1M26 11.5h2M45 11.5h1M50 11.5h1M2 12.5h2M5 12.5h2M10 12.5h1M14 12.5h3M18 12.5h2M45 12.5h1M50 13.5h1M23 14.5h8M32 14.5h2M50 14.5h1M0 15.5h2M4 15.5h1M6 15.5h1M14 15.5h2M28 15.5h3M32 15.5h2M50 15.5h1M0 16.5h5M6 16.5h1M14 16.5h2M17 16.5h1M20 16.5h2M45 16.5h1M0 17.5h2M4 17.5h2M8 17.5h1M10 17.5h1M16 17.5h1M19 17.5h1M45 17.5h1M9 18.5h1M50 18.5h1M5 19.5h4M11 19.5h1M16 19.5h2M19 19.5h1M24 19.5h1M37 19.5h2M44 19.5h1M46 19.5h4M0 20.5h5M9 20.5h1M37 20.5h2M44 20.5h1M48 20.5h2M46 21.5h2M37 22.5h2M42 22.5h1M44 22.5h1M48 22.5h2M37 23.5h2M42 23.5h1M44 23.5h1M49 23.5h1M37 24.5h2M44 24.5h1M48 24.5h2M38 25.5h1M41 25.5h1M44 25.5h1M48 25.5h2M9 26.5h1M38 26.5h1M41 26.5h1M44 26.5h1M48 26.5h2M8 27.5h1M10 27.5h1M19 27.5h4M38 27.5h1M44 27.5h1M48 27.5h2M33 28.5h1M38 28.5h1M41 28.5h1M44 28.5h1M48 28.5h2M38 29.5h1M42 29.5h1M47 29.5h1M0 30.5h5M25 30.5h1M43 30.5h1M4 31.5h1M25 31.5h1M36 31.5h1M41 31.5h1M4 32.5h1M25 32.5h1M36 32.5h1M41 32.5h1M43 32.5h1M4 33.5h1M25 33.5h1M33 33.5h1M35 33.5h1M40 33.5h1M40 34.5h2M33 35.5h1M36 35.5h1M43 35.5h1M46 35.5h1M33 36.5h1M35 36.5h1M40 36.5h1M9 37.5h1M36 37.5h2M40 37.5h1M43 37.5h1M47 37.5h1M9 38.5h1M36 38.5h2M40 38.5h1M43 38.5h1M47 38.5h1M47 39.5h1M47 40.5h1M33 41.5h1M25 42.5h1M35 42.5h1M40 42.5h1M14 43.5h2M26 43.5h1M32 43.5h1M34 43.5h1M25 44.5h1M33 44.5h1M35 44.5h1M33 45.5h1M47 45.5h1M49 45.5h1M33 46.5h1M36 46.5h2M40 46.5h1M43 46.5h1M46 46.5h1M33 47.5h1M35 47.5h1M40 47.5h1M19 48.5h4M32 48.5h1M35 48.5h3M43 48.5h1M47 48.5h1M9 49.5h1M22 49.5h1M32 49.5h1M36 49.5h1M40 49.5h1M47 49.5h1M22 50.5h1M32 50.5h1M36 50.5h1M40 50.5h1M47 50.5h1M22 51.5h1M32 51.5h1M35 51.5h3M43 51.5h1M47 51.5h1M22 52.5h1M32 52.5h1M35 52.5h3M43 52.5h1M47 52.5h1"/>
<path class="sa" d="M50 0.5h2M44 1.5h1M47 1.5h1M49 1.5h1M52 1.5h1M35 2.5h2M40 2.5h1M52 2.5h1M34 3.5h1M51 3.5h1M29 4.5h1M39 4.5h1M45 4.5h1M11 5.5h1M26 5.5h3M32 5.5h1M51 5.5h1M0 6.5h1M4 6.5h1M13 6.5h1M15 6.5h1M23 6.5h1M32 6.5h1M36 7.5h1M42 7.5h1M34 8.5h1M2 9.5h2M7 9.5h1M11 9.5h3M31 9.5h1M32 10.5h1M37 10.5h1M39 10.5h1M22 11.5h1M28 11.5h1M30 11.5h2M37 11.5h1M39 11.5h1M7 12.5h1M11 12.5h3M17 12.5h1M21 12.5h1M24 12.5h2M50 12.5h1M35 13.5h1M41 13.5h1M34 14.5h1M2 15.5h2M13 15.5h1M23 15.5h1M26 15.5h2M41 15.5h2M7 16.5h1M11 16.5h3M22 16.5h1M24 16.5h2M31 16.5h1M50 16.5h1M2 17.5h2M6 17.5h1M14 17.5h2M17 17.5h2M20 17.5h2M39 17.5h1M50 17.5h1M4 18.5h1M10 18.5h1M38 18.5h1M44 18.5h1M49 18.5h1M12 19.5h2M18 19.5h1M20 19.5h2M26 19.5h2M5 20.5h1M7 20.5h2M10 20.5h2M14 20.5h2M24 20.5h2M42 20.5h1M46 20.5h2M0 21.5h3M4 21.5h1M9 21.5h1M36 21.5h1M41 21.5h1M43 21.5h1M9 22.5h1M41 22.5h1M9 23.5h1M48 23.5h1M9 24.5h1M41 24.5h1M47 24.5h1M9 25.5h1M33 25.5h1M37 25.5h1M47 25.5h1M33 26.5h1M37 26.5h1M47 26.5h1M6 27.5h1M18 27.5h1M23 27.5h1M32 27.5h1M36 27.5h1M40 27.5h1M8 28.5h1M10 28.5h1M19 28.5h4M32 28.5h1M36 28.5h1M40 28.5h1M0 29.5h5M9 29.5h1M25 29.5h1M37 29.5h1M46 29.5h1M14 30.5h2M24 30.5h1M36 30.5h1M41 30.5h1M0 31.5h4M24 31.5h1M33 31.5h1M35 31.5h1M40 31.5h1M0 32.5h4M24 32.5h1M33 32.5h1M35 32.5h1M0 33.5h4M24 33.5h1M25 34.5h1M33 34.5h1M35 34.5h1M35 35.5h1M40 35.5h1M22 37.5h1M32 37.5h1M35 37.5h1M46 37.5h1M22 38.5h1M32 38.5h1M35 38.5h1M33 39.5h1M36 39.5h2M40 39.5h1M43 39.5h1M46 39.5h1M33 40.5h1M36 40.5h1M40 40.5h1M43 40.5h1M32 41.5h1M36 41.5h1M40 41.5h1M43 41.5h1M47 41.5h1M0 42.5h5M24 42.5h1M32 42.5h1M34 42.5h1M7 43.5h1M23 43.5h1M27 43.5h5M0 44.5h5M24 44.5h1M32 44.5h1M9 45.5h1M32 45.5h1M36 45.5h1M40 45.5h1M43 45.5h1M0 46.5h5M25 46.5h1M35 46.5h1M32 47.5h1M8 48.5h1M10 48.5h1M23 48.5h1M31 48.5h1M34 48.5h1M46 48.5h1M19 49.5h3M23 49.5h1M35 49.5h1M37 49.5h1M43 49.5h1M8 50.5h1M10 50.5h1M19 50.5h3M23 50.5h1M31 50.5h1M35 50.5h1M37 50.5h1M43 50.5h1M8 51.5h1M10 51.5h1M19 51.5h3M23 51.5h1M31 51.5h1M8 52.5h1M10 52.5h1M19 52.5h3M23 52.5h1M31 52.5h1M46 52.5h1"/>
<path class="sb" d="M48 1.5h1M43 2.5h2M46 2.5h1M35 3.5h8M45 3.5h1M34 4.5h1M37 4.5h2M51 4.5h1M24 5.5h2M29 5.5h2M34 5.5h1M39 5.5h1M45 5.5h1M1 6.5h3M7 6.5h1M11 6.5h2M14 6.5h1M26 6.5h5M34 6.5h1M41 6.5h2M50 6.5h1M38 7.5h1M43 7.5h1M47 7.5h2M35 8.5h2M40 8.5h2M50 8.5h1M23 9.5h8M32 9.5h2M45 9.5h1M50 9.5h1M33 10.5h3M38 10.5h1M46 10.5h4M23 11.5h1M29 11.5h1M32 11.5h2M38 11.5h1M46 11.5h4M20 12.5h1M22 12.5h1M26 12.5h2M31 12.5h1M37 12.5h3M44 12.5h1M46 12.5h1M49 12.5h1M36 13.5h1M40 13.5h1M42 13.5h1M47 13.5h3M35 14.5h1M41 14.5h2M45 14.5h1M47 14.5h3M7 15.5h1M11 15.5h2M24 15.5h2M34 15.5h2M40 15.5h1M45 15.5h1M48 15.5h2M23 16.5h1M26 16.5h4M39 16.5h1M44 16.5h1M49 16.5h1M7 17.5h1M11 17.5h3M22 17.5h1M24 17.5h2M38 17.5h1M44 17.5h1M49 17.5h1M0 18.5h4M5 18.5h4M11 18.5h1M14 18.5h6M21 18.5h1M24 18.5h2M37 18.5h1M42 18.5h1M46 18.5h3M22 19.5h2M28 19.5h2M31 19.5h1M41 19.5h3M6 20.5h1M12 20.5h2M16 20.5h6M26 20.5h2M41 20.5h1M43 20.5h1M3 21.5h1M6 21.5h2M10 21.5h1M14 21.5h2M24 21.5h2M40 21.5h1M0 22.5h5M7 22.5h1M10 22.5h1M14 22.5h2M25 22.5h1M43 22.5h1M46 22.5h2M0 23.5h5M7 23.5h1M10 23.5h1M14 23.5h2M25 23.5h1M36 23.5h1M41 23.5h1M43 23.5h1M46 23.5h2M6 24.5h1M10 24.5h1M33 24.5h1M36 24.5h1M43 24.5h1M46 24.5h1M36 25.5h1M40 25.5h1M43 25.5h1M46 25.5h1M6 26.5h1M8 26.5h1M10 26.5h1M19 26.5h1M21 26.5h2M36 26.5h1M40 26.5h1M43 26.5h1M46 26.5h1M5 27.5h1M16 27.5h2M29 27.5h3M34 27.5h2M37 27.5h1M43 27.5h1M47 27.5h1M5 28.5h2M16 28.5h3M23 28.5h1M31 28.5h1M34 28.5h2M37 28.5h1M43 28.5h1M47 28.5h1M5 29.5h4M10 29.5h2M14 29.5h2M24 29.5h1M33 29.5h1M36 29.5h1M41 29.5h1M43 29.5h1M5 30.5h7M33 30.5h1M35 30.5h1M40 30.5h1M7 31.5h1M11 31.5h1M14 31.5h2M26 31.5h1M34 31.5h1M6 32.5h2M9 32.5h1M11 32.5h1M14 32.5h2M40 32.5h1M6 33.5h2M11 33.5h2M14 33.5h2M26 33.5h1M32 33.5h1M34 33.5h1M0 34.5h5M7 34.5h1M14 34.5h2M24 34.5h1M32 34.5h1M0 35.5h3M4 35.5h1M24 35.5h2M32 35.5h1M34 35.5h1M0 36.5h5M24 36.5h2M32 36.5h1M34 36.5h1M6 37.5h1M8 37.5h1M10 37.5h1M18 37.5h4M23 37.5h1M29 37.5h3M34 37.5h1M6 38.5h1M8 38.5h1M10 38.5h1M18 38.5h4M23 38.5h1M29 38.5h3M34 38.5h1M46 38.5h1M9 39.5h1M32 39.5h1M35 39.5h1M0 40.5h2M4 40.5h1M9 40.5h1M19 40.5h1M32 40.5h1M35 40.5h1M37 40.5h1M46 40.5h1M9 41.5h1M19 41.5h5M34 41.5h2M37 41.5h1M46 41.5h1M14 42.5h2M22 42.5h2M26 42.5h1M28 42.5h4M11 43.5h3M20 43.5h1M22 43.5h1M7 44.5h1M14 44.5h2M22 44.5h2M26 44.5h1M34 44.5h1M8 45.5h1M10 45.5h1M16 45.5h1M18 45.5h6M29 45.5h3M34 45.5h2M37 45.5h1M46 45.5h1M14 46.5h2M19 46.5h2M22 46.5h3M26 46.5h1M28 46.5h1M31 46.5h2M34 46.5h1M0 47.5h5M22 47.5h4M34 47.5h1M5 48.5h2M16 48.5h3M29 48.5h2M6 49.5h1M8 49.5h1M10 49.5h1M16 49.5h1M18 49.5h1M29 49.5h3M34 49.5h1M46 49.5h1M5 50.5h2M16 50.5h3M29 50.5h2M34 50.5h1M46 50.5h1M5 51.5h2M16 51.5h3M29 51.5h2M34 51.5h1M46 51.5h1M5 52.5h2M16 52.5h3M29 52.5h2M34 52.5h1"/>
<path class="sc" d="M47 2.5h3M46 3.5h1M50 3.5h1M35 4.5h2M40 4.5h3M46 4.5h1M50 4.5h1M36 5.5h3M41 5.5h2M50 5.5h1M24 6.5h2M35 6.5h2M38 6.5h3M45 6.5h1M48 6.5h2M37 7.5h1M39 7.5h1M46 7.5h1M49 7.5h1M37 8.5h3M42 8.5h1M34 9.5h1M39 9.5h1M42 9.5h1M36 10.5h1M40 10.5h1M43 10.5h2M34 11.5h3M43 11.5h2M23 12.5h1M28 12.5h3M32 12.5h2M42 12.5h1M47 12.5h2M43 13.5h4M36 14.5h1M40 14.5h1M43 14.5h2M46 14.5h1M36 15.5h1M44 15.5h1M47 15.5h1M30 16.5h1M32 16.5h3M37 16.5h2M41 16.5h2M46 16.5h3M23 17.5h1M26 17.5h8M37 17.5h1M42 17.5h1M46 17.5h3M12 18.5h2M20 18.5h1M22 18.5h2M27 18.5h1M33 18.5h1M36 18.5h1M41 18.5h1M43 18.5h1M30 19.5h1M34 19.5h3M40 19.5h1M22 20.5h2M28 20.5h1M35 20.5h2M40 20.5h1M5 21.5h1M8 21.5h1M11 21.5h3M16 21.5h2M19 21.5h1M33 21.5h1M35 21.5h1M5 22.5h2M8 22.5h1M11 22.5h3M16 22.5h4M21 22.5h1M24 22.5h1M33 22.5h1M35 22.5h2M40 22.5h1M5 23.5h2M8 23.5h1M11 23.5h1M13 23.5h1M16 23.5h4M21 23.5h1M24 23.5h1M33 23.5h1M35 23.5h1M40 23.5h1M0 24.5h3M8 24.5h1M19 24.5h5M32 24.5h1M35 24.5h1M40 24.5h1M6 25.5h1M8 25.5h1M10 25.5h1M19 25.5h4M32 25.5h1M35 25.5h1M5 26.5h1M16 26.5h3M20 26.5h1M23 26.5h1M32 26.5h1M35 26.5h1M12 27.5h2M46 27.5h1M29 28.5h2M46 28.5h1M12 29.5h2M16 29.5h4M26 29.5h3M32 29.5h1M35 29.5h1M40 29.5h1M12 30.5h2M16 30.5h4M26 30.5h3M32 30.5h1M34 30.5h1M6 31.5h1M9 31.5h2M12 31.5h2M27 31.5h4M32 31.5h1M10 32.5h1M12 32.5h2M26 32.5h3M32 32.5h1M34 32.5h1M9 33.5h2M13 33.5h1M22 33.5h2M27 33.5h5M6 34.5h1M9 34.5h5M22 34.5h2M26 34.5h5M34 34.5h1M3 35.5h1M6 35.5h2M9 35.5h1M14 35.5h2M22 35.5h2M26 35.5h1M29 35.5h3M6 36.5h2M9 36.5h1M11 36.5h2M14 36.5h2M22 36.5h2M26 36.5h1M29 36.5h3M5 37.5h1M16 37.5h2M5 38.5h1M16 38.5h2M0 39.5h5M8 39.5h1M10 39.5h1M18 39.5h6M25 39.5h1M29 39.5h3M34 39.5h1M2 40.5h2M8 40.5h1M10 40.5h1M18 40.5h1M20 40.5h4M25 40.5h1M30 40.5h2M34 40.5h1M8 41.5h1M10 41.5h1M18 41.5h1M29 41.5h3M7 42.5h1M11 42.5h3M18 42.5h4M27 42.5h1M5 43.5h2M16 43.5h4M21 43.5h1M6 44.5h1M11 44.5h3M27 44.5h5M0 45.5h2M4 45.5h2M17 45.5h1M8 46.5h2M18 46.5h1M21 46.5h1M27 46.5h1M29 46.5h2M7 47.5h1M9 47.5h1M14 47.5h2M26 47.5h1M29 47.5h3M12 48.5h2M5 49.5h1M12 49.5h2M17 49.5h1M12 50.5h2M28 50.5h1M12 51.5h2M28 51.5h1M12 52.5h2M28 52.5h1"/>
<path class="sd" d="M50 1.5h1M51 2.5h1M43 3.5h2M47 3.5h2M43 4.5h2M49 4.5h1M35 5.5h1M40 5.5h1M44 5.5h1M46 5.5h1M49 5.5h1M37 6.5h1M43 6.5h2M47 6.5h1M44 7.5h1M43 8.5h1M45 8.5h5M35 9.5h4M40 9.5h2M44 9.5h1M46 9.5h4M41 10.5h1M40 11.5h1M42 11.5h1M34 12.5h3M41 12.5h1M43 12.5h1M37 13.5h2M37 14.5h1M39 14.5h1M38 15.5h2M43 15.5h1M46 15.5h1M35 16.5h1M40 16.5h1M43 16.5h1M34 17.5h1M36 17.5h1M40 17.5h2M43 17.5h1M26 18.5h1M28 18.5h5M35 18.5h1M40 18.5h1M32 19.5h1M29 20.5h3M33 20.5h2M18 21.5h1M20 21.5h4M26 21.5h5M32 21.5h1M34 21.5h1M20 22.5h1M22 22.5h2M26 22.5h4M31 22.5h2M34 22.5h1M12 23.5h1M20 23.5h1M22 23.5h2M26 23.5h3M30 23.5h3M34 23.5h1M3 24.5h3M7 24.5h1M11 24.5h8M24 24.5h4M29 24.5h3M34 24.5h1M0 25.5h6M7 25.5h1M12 25.5h1M14 25.5h5M23 25.5h4M28 25.5h4M34 25.5h1M0 26.5h5M7 26.5h1M11 26.5h5M24 26.5h2M27 26.5h5M34 26.5h1M7 27.5h1M11 27.5h1M14 27.5h2M26 27.5h3M7 28.5h1M12 28.5h2M26 28.5h3M20 29.5h3M29 29.5h3M34 29.5h1M20 30.5h2M23 30.5h1M29 30.5h3M5 31.5h1M8 31.5h1M16 31.5h5M22 31.5h2M31 31.5h1M5 32.5h1M8 32.5h1M16 32.5h3M21 32.5h3M29 32.5h3M5 33.5h1M16 33.5h2M20 33.5h2M5 34.5h1M20 34.5h2M31 34.5h1M5 35.5h1M8 35.5h1M10 35.5h4M19 35.5h3M27 35.5h2M5 36.5h1M8 36.5h1M10 36.5h1M13 36.5h1M19 36.5h3M27 36.5h2M7 37.5h1M12 37.5h2M25 37.5h4M7 38.5h1M12 38.5h2M25 38.5h4M5 39.5h3M14 39.5h4M24 39.5h1M26 39.5h1M28 39.5h1M5 40.5h3M14 40.5h4M24 40.5h1M26 40.5h4M0 41.5h7M16 41.5h2M25 41.5h2M28 41.5h1M5 42.5h2M8 42.5h2M16 42.5h2M8 43.5h1M10 43.5h1M5 44.5h1M9 44.5h2M16 44.5h2M20 44.5h2M2 45.5h2M6 45.5h1M12 45.5h4M24 45.5h5M5 46.5h1M7 46.5h1M10 46.5h4M16 46.5h2M6 47.5h1M8 47.5h1M10 47.5h4M16 47.5h6M27 47.5h2M7 48.5h1M11 48.5h1M26 48.5h3M7 49.5h1M11 49.5h1M26 49.5h3M7 50.5h1M11 50.5h1M26 50.5h2M7 51.5h1M11 51.5h1M26 51.5h2M7 52.5h1M11 52.5h1M26 52.5h2"/>
<path class="se" d="M52 0.5h1M51 1.5h1M50 2.5h1M49 3.5h1M48 4.5h1M47 5.5h1M46 6.5h1M45 7.5h1M44 8.5h1M43 9.5h1M42 10.5h1M41 11.5h1M40 12.5h1M39 13.5h1M38 14.5h1M37 15.5h1M36 16.5h1M35 17.5h1M34 18.5h1M33 19.5h1M32 20.5h1M31 21.5h1M30 22.5h1M29 23.5h1M28 24.5h1M27 25.5h1M26 26.5h1M25 27.5h1M24 28.5h1M23 29.5h1M22 30.5h1M21 31.5h1M20 32.5h1M19 33.5h1M18 34.5h1M17 35.5h1M16 36.5h1M15 37.5h1M14 38.5h1M13 39.5h1M12 40.5h1M11 41.5h1M10 42.5h1M9 43.5h1M8 44.5h1M7 45.5h1M6 46.5h1M5 47.5h1M4 48.5h1M3 49.5h1M2 50.5h1M1 51.5h1M0 52.5h1"/>
<path class="sg" d="M47 4.5h1M43 5.5h1M48 5.5h1M11 25.5h1M13 25.5h1M0 27.5h5M24 27.5h1M0 28.5h5M11 28.5h1M14 28.5h2M25 28.5h1M19 32.5h1M8 33.5h1M18 33.5h1M8 34.5h1M16 34.5h2M19 34.5h1M16 35.5h1M18 35.5h1M17 36.5h2M0 37.5h5M11 37.5h1M14 37.5h1M24 37.5h1M0 38.5h5M11 38.5h1M15 38.5h1M24 38.5h1M11 39.5h2M27 39.5h1M11 40.5h1M13 40.5h1M7 41.5h1M12 41.5h4M24 41.5h1M27 41.5h1M18 44.5h2M11 45.5h1M0 48.5h4M14 48.5h2M24 48.5h2M0 49.5h3M4 49.5h1M14 49.5h2M24 49.5h2M0 50.5h2M3 50.5h2M14 50.5h2M24 50.5h2M0 51.5h1M2 51.5h3M14 51.5h2M24 51.5h2M1 52.5h4M14 52.5h2M24 52.5h2"/>
</g>
</g>
<rect x="809.05" y="44.35" width="560.95" height="560.45" fill="none" stroke="#000" stroke-width="1.95"/>
<path d="M814.69 604.80V613.30M809.05 599.61H800.55" stroke="#000" stroke-width="1.95"/>
<text x="816.09" y="642.50" text-anchor="middle" class="t" textLength="15.90" lengthAdjust="spacingAndGlyphs">0</text>
<text x="792.25" y="609.61" text-anchor="end" class="t" textLength="15.90" lengthAdjust="spacingAndGlyphs">0</text>
<path d="M920.53 604.80V613.30M809.05 493.87H800.55" stroke="#000" stroke-width="1.95"/>
<text x="922.18" y="642.50" text-anchor="middle" class="t" textLength="31.80" lengthAdjust="spacingAndGlyphs">10</text>
<text x="792.25" y="503.87" text-anchor="end" class="t" textLength="31.80" lengthAdjust="spacingAndGlyphs">10</text>
<path d="M1026.37 604.80V613.30M809.05 388.12H800.55" stroke="#000" stroke-width="1.95"/>
<text x="1027.67" y="642.50" text-anchor="middle" class="t" textLength="31.80" lengthAdjust="spacingAndGlyphs">20</text>
<text x="792.25" y="398.12" text-anchor="end" class="t" textLength="31.80" lengthAdjust="spacingAndGlyphs">20</text>
<path d="M1132.21 604.80V613.30M809.05 282.38H800.55" stroke="#000" stroke-width="1.95"/>
<text x="1133.01" y="642.50" text-anchor="middle" class="t" textLength="31.80" lengthAdjust="spacingAndGlyphs">30</text>
<text x="792.25" y="292.38" text-anchor="end" class="t" textLength="31.80" lengthAdjust="spacingAndGlyphs">30</text>
<path d="M1238.05 604.80V613.30M809.05 176.63H800.55" stroke="#000" stroke-width="1.95"/>
<text x="1239.45" y="642.50" text-anchor="middle" class="t" textLength="31.80" lengthAdjust="spacingAndGlyphs">40</text>
<text x="792.25" y="186.63" text-anchor="end" class="t" textLength="31.80" lengthAdjust="spacingAndGlyphs">40</text>
<path d="M1343.89 604.80V613.30M809.05 70.89H800.55" stroke="#000" stroke-width="1.95"/>
<text x="1344.39" y="642.50" text-anchor="middle" class="t" textLength="31.80" lengthAdjust="spacingAndGlyphs">50</text>
<text x="792.25" y="80.89" text-anchor="end" class="t" textLength="31.80" lengthAdjust="spacingAndGlyphs">50</text>
<text x="1090.53" y="677.50" text-anchor="middle" class="l" textLength="263" lengthAdjust="spacingAndGlyphs">Convolutional layers</text>
<text transform="translate(744.55,325.07) rotate(-90)" text-anchor="middle" class="l" textLength="263" lengthAdjust="spacingAndGlyphs">Convolutional layers</text>
<clipPath id="cpc"><rect x="84.15" y="701.30" width="559.95" height="559.55"/></clipPath>
<g clip-path="url(#cpc)">
<g transform="translate(83.20,700.00) scale(10.6094,10.5906)" stroke-width="1">
<path class="s0" d="M6 0.5h2M12 0.5h2M19 0.5h2M7 1.5h1M19 1.5h2M7 2.5h1M7 3.5h1M19 3.5h2M7 4.5h1M7 5.5h1M7 6.5h1M7 7.5h1M7 8.5h1M7 9.5h1M7 10.5h1M7 11.5h1M7 12.5h1M7 13.5h1M7 14.5h1M7 15.5h1M7 16.5h1M7 17.5h1M7 18.5h1M7 19.5h1M7 20.5h1M7 21.5h1M7 22.5h1M7 23.5h1M7 24.5h1M7 25.5h1M7 26.5h1M7 27.5h1M7 28.5h1M7 29.5h1M7 30.5h1M7 31.5h1M7 32.5h1M49 32.5h1M51 32.5h2M7 33.5h1M49 33.5h1M51 33.5h2M7 34.5h1M7 35.5h1M7 36.5h1M7 37.5h1M7 38.5h1M52 39.5h1M52 40.5h1M7 42.5h1M7 43.5h1M0 45.5h1M2 45.5h2M9 45.5h2M14 45.5h39M52 46.5h1M7 49.5h1M7 50.5h1M7 52.5h1"/>
<path class="s1" d="M0 0.5h2M3 0.5h3M8 0.5h4M15 0.5h2M18 0.5h1M21 0.5h1M49 0.5h1M0 1.5h1M5 1.5h2M12 1.5h2M18 1.5h1M21 1.5h1M5 3.5h2M12 3.5h1M18 3.5h1M21 3.5h1M45 3.5h1M52 3.5h1M19 4.5h2M19 5.5h1M12 7.5h1M49 7.5h1M49 31.5h1M51 31.5h2M48 32.5h1M47 33.5h2M49 34.5h1M51 34.5h2M52 36.5h1M52 37.5h1M51 39.5h1M45 40.5h1M49 40.5h1M51 40.5h1M52 41.5h1M52 42.5h1M52 43.5h1M7 44.5h1M52 44.5h1M1 45.5h1M4 45.5h1M8 45.5h1M49 46.5h1M51 46.5h1M49 47.5h1M51 47.5h2M7 48.5h1M52 48.5h1M52 49.5h1M7 51.5h1M52 51.5h1M51 52.5h2"/>
<path class="s2" d="M2 0.5h1M14 0.5h1M17 0.5h1M22 0.5h3M27 0.5h1M1 1.5h1M3 1.5h2M10 1.5h2M15 1.5h3M22 1.5h2M6 2.5h1M12 2.5h1M0 3.5h1M11 3.5h1M13 3.5h1M16 3.5h1M22 3.5h4M29 3.5h2M6 4.5h1M12 4.5h2M6 5.5h1M12 5.5h1M20 5.5h1M0 7.5h1M3 7.5h1M6 7.5h1M9 7.5h2M13 7.5h1M15 7.5h3M19 7.5h2M6 10.5h1M12 10.5h1M49 22.5h1M49 23.5h1M52 25.5h1M49 27.5h1M49 28.5h1M52 28.5h1M49 29.5h1M51 29.5h2M49 30.5h1M51 30.5h2M45 32.5h1M47 32.5h1M45 33.5h1M45 35.5h1M51 35.5h2M45 36.5h1M49 36.5h1M51 36.5h1M45 37.5h1M51 37.5h1M52 38.5h1M45 39.5h1M48 39.5h2M7 40.5h1M42 40.5h1M47 40.5h2M50 40.5h1M7 41.5h1M49 41.5h1M51 41.5h1M45 42.5h1M51 42.5h1M45 43.5h1M11 45.5h2M42 46.5h1M45 46.5h1M47 46.5h2M50 46.5h1M51 48.5h1M45 49.5h1M51 49.5h1M52 50.5h1M51 51.5h1M45 52.5h1M49 52.5h1"/>
<path class="s3" d="M25 0.5h2M28 0.5h1M33 0.5h2M36 0.5h1M2 1.5h1M8 1.5h2M14 1.5h1M24 1.5h1M27 1.5h1M0 2.5h1M13 2.5h1M19 2.5h2M1 3.5h2M4 3.5h1M8 3.5h1M10 3.5h1M14 3.5h2M17 3.5h1M26 3.5h3M31 3.5h4M5 4.5h1M18 4.5h1M21 4.5h1M5 5.5h1M13 5.5h1M18 5.5h1M21 5.5h1M1 7.5h2M4 7.5h2M8 7.5h1M14 7.5h1M18 7.5h1M21 7.5h1M13 10.5h1M19 10.5h2M6 11.5h1M12 11.5h1M19 11.5h2M6 16.5h1M12 16.5h1M49 18.5h1M52 18.5h1M49 19.5h1M52 19.5h1M49 20.5h1M49 21.5h1M49 24.5h1M52 24.5h1M49 25.5h1M51 25.5h1M49 26.5h1M52 26.5h1M52 27.5h1M51 28.5h1M45 31.5h1M47 31.5h2M41 32.5h2M50 32.5h1M41 33.5h2M50 33.5h1M45 34.5h1M47 34.5h2M49 35.5h1M49 37.5h1M45 38.5h1M49 38.5h1M51 38.5h1M7 39.5h1M42 39.5h1M47 39.5h1M50 39.5h1M36 40.5h1M41 40.5h1M49 42.5h1M51 43.5h1M45 44.5h1M49 44.5h1M51 44.5h1M36 46.5h1M41 46.5h1M45 47.5h1M47 47.5h2M45 48.5h1M49 48.5h1M45 50.5h1M49 50.5h1M51 50.5h1M45 51.5h1M49 51.5h1M50 52.5h1"/>
<path class="s4" d="M29 0.5h4M35 0.5h1M47 0.5h2M25 1.5h1M29 1.5h2M34 1.5h1M1 2.5h1M5 2.5h1M10 2.5h2M16 2.5h1M3 3.5h1M9 3.5h1M36 3.5h1M0 4.5h1M11 4.5h1M16 4.5h1M22 4.5h1M52 4.5h1M11 5.5h1M11 7.5h1M22 7.5h2M27 7.5h1M6 8.5h1M12 8.5h2M19 8.5h2M6 13.5h1M12 13.5h1M49 16.5h1M52 16.5h1M51 18.5h1M52 20.5h1M52 21.5h1M51 22.5h2M51 23.5h2M45 25.5h1M51 27.5h1M45 29.5h1M45 30.5h1M48 30.5h1M44 32.5h1M44 33.5h1M48 36.5h1M50 36.5h1M44 39.5h1M39 40.5h1M44 40.5h1M45 41.5h1M47 41.5h2M50 41.5h1M50 42.5h1M49 43.5h1M5 45.5h2M13 45.5h1M7 46.5h1M39 46.5h1M44 46.5h1M7 47.5h1M50 47.5h1M49 49.5h1M50 51.5h1M48 52.5h1"/>
<path class="s5" d="M37 0.5h2M40 0.5h1M45 0.5h1M26 1.5h1M28 1.5h1M31 1.5h3M35 1.5h2M45 1.5h1M2 2.5h3M8 2.5h2M14 2.5h2M17 2.5h2M21 2.5h1M35 3.5h1M1 4.5h4M8 4.5h3M14 4.5h2M17 4.5h1M23 4.5h8M45 4.5h1M0 5.5h3M4 5.5h1M10 5.5h1M15 5.5h3M22 5.5h3M52 5.5h1M6 6.5h1M12 6.5h1M19 6.5h2M24 7.5h1M48 7.5h1M52 7.5h1M0 8.5h1M10 8.5h1M6 9.5h1M5 10.5h1M10 10.5h2M16 10.5h1M18 10.5h1M21 10.5h1M13 11.5h1M18 11.5h1M6 12.5h1M12 12.5h1M19 12.5h2M52 12.5h1M13 13.5h1M19 13.5h2M6 14.5h1M0 16.5h1M3 16.5h1M10 16.5h1M13 16.5h1M19 16.5h2M6 17.5h1M49 17.5h1M52 17.5h1M51 19.5h1M51 20.5h1M51 21.5h1M48 22.5h1M48 23.5h1M48 24.5h1M51 24.5h1M48 25.5h1M48 26.5h1M51 26.5h1M48 27.5h1M45 28.5h1M47 28.5h2M47 29.5h2M47 30.5h1M42 31.5h1M50 31.5h1M36 32.5h1M39 32.5h2M46 32.5h1M36 33.5h1M39 33.5h2M46 33.5h1M41 34.5h2M50 34.5h1M47 35.5h2M50 35.5h1M42 36.5h1M47 36.5h1M47 37.5h2M50 37.5h1M48 38.5h1M50 38.5h1M36 39.5h1M39 39.5h1M41 39.5h1M40 40.5h1M46 40.5h1M42 41.5h1M36 42.5h1M42 42.5h1M44 42.5h1M47 42.5h2M48 43.5h1M50 43.5h1M48 44.5h1M50 44.5h1M0 46.5h1M35 46.5h1M38 46.5h1M40 46.5h1M43 46.5h1M46 46.5h1M42 47.5h1M47 48.5h2M50 48.5h1M36 49.5h1M48 49.5h1M50 49.5h1M47 50.5h2M50 50.5h1M47 51.5h2M6 52.5h1M36 52.5h1M44 52.5h1M47 52.5h1"/>
<path class="s6" d="M39 0.5h1M41 0.5h1M46 0.5h1M22 2.5h3M27 2.5h1M45 2.5h1M37 3.5h1M43 3.5h2M31 4.5h4M3 5.5h1M8 5.5h2M14 5.5h1M25 5.5h3M29 5.5h2M45 5.5h1M13 6.5h1M52 6.5h1M25 7.5h2M28 7.5h2M31 7.5h6M40 7.5h1M47 7.5h1M51 7.5h1M1 8.5h1M3 8.5h3M8 8.5h2M11 8.5h1M15 8.5h4M21 8.5h1M49 8.5h1M12 9.5h2M49 9.5h1M0 10.5h5M8 10.5h2M14 10.5h2M17 10.5h1M22 10.5h3M5 11.5h1M10 11.5h2M21 11.5h1M52 11.5h1M13 12.5h1M45 12.5h1M0 13.5h1M5 13.5h1M52 13.5h1M12 14.5h2M52 14.5h1M6 15.5h1M12 15.5h1M49 15.5h1M52 15.5h1M1 16.5h2M4 16.5h2M8 16.5h2M11 16.5h1M14 16.5h5M21 16.5h1M51 16.5h1M12 17.5h2M51 17.5h1M6 18.5h1M45 18.5h1M48 18.5h1M6 19.5h1M12 19.5h2M45 19.5h1M48 19.5h1M6 20.5h1M45 20.5h1M48 20.5h1M6 21.5h1M45 21.5h1M48 21.5h1M6 22.5h1M47 22.5h1M6 23.5h1M45 23.5h1M47 23.5h1M45 24.5h1M47 25.5h1M50 25.5h1M45 26.5h1M47 26.5h1M45 27.5h1M47 27.5h1M42 28.5h1M50 28.5h1M42 29.5h1M50 29.5h1M42 30.5h1M50 30.5h1M36 31.5h1M41 31.5h1M44 31.5h1M36 34.5h1M44 34.5h1M36 35.5h1M42 35.5h1M44 35.5h1M36 36.5h1M44 36.5h1M36 37.5h1M42 37.5h1M44 37.5h1M36 38.5h1M42 38.5h1M47 38.5h1M33 39.5h1M35 39.5h1M38 39.5h1M40 39.5h1M43 39.5h1M46 39.5h1M33 40.5h1M35 40.5h1M37 40.5h2M43 40.5h1M36 41.5h1M41 41.5h1M44 41.5h1M41 42.5h1M36 43.5h1M42 43.5h1M44 43.5h1M47 43.5h1M36 44.5h1M42 44.5h1M44 44.5h1M47 44.5h1M29 46.5h6M37 46.5h1M36 47.5h1M39 47.5h1M41 47.5h1M44 47.5h1M36 48.5h1M42 48.5h1M44 48.5h1M42 49.5h1M44 49.5h1M47 49.5h1M36 50.5h1M42 50.5h1M36 51.5h1M42 51.5h1M44 51.5h1M39 52.5h1M42 52.5h1"/>
<path class="s7" d="M42 0.5h3M37 1.5h1M49 1.5h1M25 2.5h2M29 2.5h2M49 2.5h1M50 3.5h2M36 4.5h1M28 5.5h1M31 5.5h4M36 5.5h1M5 6.5h1M11 6.5h1M18 6.5h1M21 6.5h1M45 6.5h1M30 7.5h1M37 7.5h3M41 7.5h1M46 7.5h1M50 7.5h1M2 8.5h1M14 8.5h1M22 8.5h3M27 8.5h1M52 8.5h1M0 9.5h1M5 9.5h1M10 9.5h1M19 9.5h2M52 9.5h1M27 10.5h1M45 10.5h1M52 10.5h1M0 11.5h5M8 11.5h2M15 11.5h3M22 11.5h3M45 11.5h1M5 12.5h1M1 13.5h1M3 13.5h2M10 13.5h2M16 13.5h1M18 13.5h1M21 13.5h1M45 13.5h1M19 14.5h2M45 14.5h1M13 15.5h1M45 15.5h1M51 15.5h1M45 16.5h1M47 16.5h2M0 17.5h1M3 17.5h3M10 17.5h1M19 17.5h2M45 17.5h1M48 17.5h1M12 18.5h2M47 18.5h1M0 19.5h1M47 19.5h1M12 20.5h2M47 20.5h1M12 21.5h2M47 21.5h1M12 22.5h2M45 22.5h1M50 22.5h1M12 23.5h2M50 23.5h1M6 24.5h1M47 24.5h1M42 25.5h1M44 25.5h1M0 26.5h1M6 26.5h1M50 26.5h1M0 27.5h1M6 27.5h1M50 27.5h1M41 28.5h1M44 28.5h1M6 29.5h1M41 29.5h1M44 29.5h1M41 30.5h1M44 30.5h1M39 31.5h1M46 31.5h1M0 32.5h1M6 32.5h1M13 32.5h1M35 32.5h1M38 32.5h1M43 32.5h1M6 33.5h1M13 33.5h1M35 33.5h1M38 33.5h1M43 33.5h1M39 34.5h1M46 34.5h1M6 35.5h1M41 35.5h1M6 36.5h1M39 36.5h1M41 36.5h1M6 37.5h1M41 37.5h1M44 38.5h1M0 39.5h1M19 39.5h2M29 39.5h4M34 39.5h1M37 39.5h1M0 40.5h1M29 40.5h4M34 40.5h1M39 41.5h1M46 41.5h1M35 42.5h1M39 42.5h1M43 42.5h1M41 43.5h1M41 44.5h1M3 46.5h2M15 46.5h3M19 46.5h2M23 46.5h1M25 46.5h2M28 46.5h1M35 47.5h1M40 47.5h1M43 47.5h1M46 47.5h1M35 48.5h1M39 48.5h1M41 48.5h1M6 49.5h1M35 49.5h1M39 49.5h1M41 49.5h1M41 50.5h1M44 50.5h1M39 51.5h1M41 51.5h1M12 52.5h2M20 52.5h1M25 52.5h2M33 52.5h1M35 52.5h1M41 52.5h1M43 52.5h1"/>
<path class="s8" d="M50 0.5h2M38 1.5h1M40 1.5h2M52 1.5h1M28 2.5h1M31 2.5h6M38 3.5h1M41 3.5h2M35 4.5h1M35 5.5h1M0 6.5h5M8 6.5h3M15 6.5h3M22 6.5h3M42 7.5h1M25 8.5h2M29 8.5h1M1 9.5h4M8 9.5h2M11 9.5h1M14 9.5h5M21 9.5h1M25 10.5h2M28 10.5h7M36 10.5h1M49 10.5h1M14 11.5h1M25 11.5h5M33 11.5h2M36 11.5h1M49 11.5h1M0 12.5h1M10 12.5h2M16 12.5h1M18 12.5h1M21 12.5h1M51 12.5h1M2 13.5h1M8 13.5h2M14 13.5h2M17 13.5h1M22 13.5h4M27 13.5h1M49 13.5h1M0 14.5h2M4 14.5h2M10 14.5h2M15 14.5h2M18 14.5h1M21 14.5h1M49 14.5h1M51 14.5h1M0 15.5h1M11 15.5h1M48 15.5h1M22 16.5h3M27 16.5h1M50 16.5h1M1 17.5h2M8 17.5h2M11 17.5h1M14 17.5h5M47 17.5h1M50 17.5h1M0 18.5h1M10 18.5h1M41 18.5h2M50 18.5h1M1 19.5h1M3 19.5h3M9 19.5h3M15 19.5h2M41 19.5h2M50 19.5h1M0 20.5h2M3 20.5h3M9 20.5h3M15 20.5h2M42 20.5h1M50 20.5h1M0 21.5h1M3 21.5h2M10 21.5h1M42 21.5h1M50 21.5h1M0 22.5h1M3 22.5h2M9 22.5h2M15 22.5h1M42 22.5h1M0 23.5h1M3 23.5h1M10 23.5h1M41 23.5h2M44 23.5h1M0 24.5h1M12 24.5h2M41 24.5h2M50 24.5h1M6 25.5h1M36 25.5h1M39 25.5h1M41 25.5h1M1 26.5h1M3 26.5h2M9 26.5h2M12 26.5h2M15 26.5h3M41 26.5h2M44 26.5h1M1 27.5h1M3 27.5h2M9 27.5h2M12 27.5h2M15 27.5h3M39 27.5h1M41 27.5h2M44 27.5h1M6 28.5h1M36 28.5h1M39 28.5h1M46 28.5h1M12 29.5h2M36 29.5h1M39 29.5h1M46 29.5h1M6 30.5h1M13 30.5h1M36 30.5h1M39 30.5h1M46 30.5h1M6 31.5h1M13 31.5h1M38 31.5h1M40 31.5h1M43 31.5h1M1 32.5h1M3 32.5h2M9 32.5h2M12 32.5h1M15 32.5h1M0 33.5h1M3 33.5h2M10 33.5h1M12 33.5h1M15 33.5h1M6 34.5h1M35 34.5h1M38 34.5h1M40 34.5h1M43 34.5h1M25 35.5h2M35 35.5h1M39 35.5h1M43 35.5h1M46 35.5h1M25 36.5h2M32 36.5h2M35 36.5h1M38 36.5h1M40 36.5h1M43 36.5h1M46 36.5h1M12 37.5h2M19 37.5h2M25 37.5h2M30 37.5h1M32 37.5h2M35 37.5h1M38 37.5h2M43 37.5h1M46 37.5h1M6 38.5h1M35 38.5h1M39 38.5h1M41 38.5h1M43 38.5h1M3 39.5h2M15 39.5h3M21 39.5h3M25 39.5h2M28 39.5h1M3 40.5h2M15 40.5h3M19 40.5h2M23 40.5h1M25 40.5h2M28 40.5h1M32 41.5h2M35 41.5h1M37 41.5h2M40 41.5h1M43 41.5h1M6 42.5h1M19 42.5h2M25 42.5h2M29 42.5h6M38 42.5h1M40 42.5h1M46 42.5h1M6 43.5h1M20 43.5h1M25 43.5h2M30 43.5h1M32 43.5h2M35 43.5h1M39 43.5h1M43 43.5h1M46 43.5h1M35 44.5h1M39 44.5h1M43 44.5h1M46 44.5h1M1 46.5h2M9 46.5h2M14 46.5h1M18 46.5h1M21 46.5h2M24 46.5h1M27 46.5h1M32 47.5h2M38 47.5h1M6 48.5h1M12 48.5h1M19 48.5h2M25 48.5h2M30 48.5h4M38 48.5h1M43 48.5h1M46 48.5h1M12 49.5h2M19 49.5h2M25 49.5h2M29 49.5h5M43 49.5h1M46 49.5h1M6 50.5h1M35 50.5h1M39 50.5h1M43 50.5h1M46 50.5h1M6 51.5h1M20 51.5h1M25 51.5h2M32 51.5h2M35 51.5h1M38 51.5h1M43 51.5h1M46 51.5h1M19 52.5h1M28 52.5h5M34 52.5h1M37 52.5h2M40 52.5h1M46 52.5h1"/>
<path class="s9" d="M39 1.5h1M42 1.5h3M46 1.5h1M37 2.5h1M52 2.5h1M39 3.5h2M46 3.5h1M37 4.5h1M37 5.5h1M14 6.5h1M25 6.5h3M29 6.5h2M36 6.5h1M49 6.5h1M43 7.5h1M28 8.5h1M30 8.5h7M48 8.5h1M51 8.5h1M22 9.5h3M45 9.5h1M51 9.5h1M35 10.5h1M37 10.5h1M51 10.5h1M30 11.5h3M35 11.5h1M51 11.5h1M1 12.5h4M8 12.5h2M14 12.5h2M17 12.5h1M22 12.5h6M29 12.5h2M49 12.5h1M26 13.5h1M28 13.5h3M33 13.5h1M51 13.5h1M2 14.5h2M8 14.5h2M14 14.5h1M17 14.5h1M22 14.5h3M1 15.5h1M3 15.5h3M10 15.5h1M15 15.5h2M19 15.5h2M47 15.5h1M50 15.5h1M25 16.5h2M28 16.5h2M41 16.5h2M44 16.5h1M21 17.5h1M41 17.5h2M44 17.5h1M1 18.5h1M3 18.5h3M9 18.5h1M11 18.5h1M15 18.5h2M44 18.5h1M2 19.5h1M8 19.5h1M14 19.5h1M17 19.5h1M19 19.5h2M39 19.5h1M44 19.5h1M2 20.5h1M8 20.5h1M14 20.5h1M17 20.5h1M19 20.5h2M41 20.5h1M44 20.5h1M1 21.5h1M5 21.5h1M9 21.5h1M11 21.5h1M14 21.5h3M19 21.5h2M41 21.5h1M44 21.5h1M1 22.5h2M5 22.5h1M8 22.5h1M11 22.5h1M14 22.5h1M16 22.5h2M19 22.5h2M39 22.5h3M44 22.5h1M46 22.5h1M1 23.5h1M4 23.5h2M9 23.5h1M11 23.5h1M15 23.5h2M36 23.5h1M39 23.5h2M46 23.5h1M3 24.5h2M9 24.5h2M15 24.5h1M36 24.5h1M39 24.5h1M44 24.5h1M12 25.5h2M40 25.5h1M46 25.5h1M2 26.5h1M5 26.5h1M8 26.5h1M11 26.5h1M14 26.5h1M19 26.5h2M36 26.5h1M39 26.5h2M46 26.5h1M2 27.5h1M5 27.5h1M8 27.5h1M11 27.5h1M14 27.5h1M19 27.5h2M36 27.5h1M40 27.5h1M46 27.5h1M0 28.5h1M3 28.5h2M10 28.5h1M12 28.5h2M15 28.5h1M38 28.5h1M40 28.5h1M43 28.5h1M0 29.5h1M3 29.5h2M10 29.5h1M15 29.5h1M38 29.5h1M40 29.5h1M43 29.5h1M0 30.5h1M3 30.5h2M10 30.5h1M12 30.5h1M15 30.5h1M38 30.5h1M40 30.5h1M43 30.5h1M0 31.5h1M3 31.5h2M10 31.5h1M12 31.5h1M35 31.5h1M2 32.5h1M16 32.5h2M25 32.5h2M30 32.5h4M37 32.5h1M1 33.5h2M9 33.5h1M16 33.5h1M25 33.5h2M30 33.5h4M37 33.5h1M12 34.5h2M12 35.5h2M20 35.5h1M30 35.5h1M32 35.5h2M38 35.5h1M40 35.5h1M12 36.5h2M19 36.5h2M29 36.5h3M34 36.5h1M37 36.5h1M22 37.5h3M28 37.5h2M31 37.5h1M34 37.5h1M37 37.5h1M40 37.5h1M12 38.5h2M25 38.5h2M30 38.5h4M38 38.5h1M40 38.5h1M46 38.5h1M1 39.5h2M6 39.5h1M9 39.5h2M14 39.5h1M18 39.5h1M24 39.5h1M27 39.5h1M1 40.5h2M9 40.5h2M14 40.5h1M18 40.5h1M21 40.5h2M24 40.5h1M27 40.5h1M0 41.5h1M25 41.5h2M29 41.5h3M34 41.5h1M12 42.5h2M21 42.5h4M28 42.5h1M37 42.5h1M12 43.5h2M19 43.5h1M28 43.5h2M31 43.5h1M34 43.5h1M38 43.5h1M40 43.5h1M25 44.5h2M30 44.5h1M32 44.5h2M38 44.5h1M40 44.5h1M25 47.5h2M29 47.5h3M34 47.5h1M37 47.5h1M13 48.5h1M21 48.5h4M28 48.5h2M34 48.5h1M37 48.5h1M40 48.5h1M21 49.5h4M28 49.5h1M34 49.5h1M37 49.5h2M40 49.5h1M12 50.5h2M19 50.5h2M25 50.5h2M30 50.5h1M32 50.5h2M38 50.5h1M40 50.5h1M12 51.5h2M19 51.5h1M29 51.5h3M34 51.5h1M37 51.5h1M40 51.5h1M11 52.5h1M21 52.5h4"/>
<path class="sa" d="M47 1.5h2M38 2.5h1M40 2.5h2M44 2.5h1M47 2.5h2M43 4.5h2M50 4.5h2M44 5.5h1M50 5.5h2M28 6.5h1M31 6.5h4M51 6.5h1M37 8.5h1M40 8.5h3M47 8.5h1M50 8.5h1M27 9.5h1M36 9.5h1M48 9.5h1M44 10.5h1M50 10.5h1M37 11.5h1M44 11.5h1M28 12.5h1M31 12.5h4M36 12.5h1M44 12.5h1M50 12.5h1M31 13.5h2M34 13.5h1M36 13.5h1M25 14.5h3M36 14.5h1M50 14.5h1M2 15.5h1M8 15.5h2M14 15.5h1M17 15.5h2M21 15.5h1M41 15.5h2M44 15.5h1M30 16.5h1M33 16.5h1M38 16.5h3M43 16.5h1M46 16.5h1M22 17.5h1M27 17.5h1M2 18.5h1M8 18.5h1M14 18.5h1M17 18.5h1M19 18.5h2M39 18.5h2M46 18.5h1M18 19.5h1M21 19.5h1M36 19.5h1M40 19.5h1M46 19.5h1M18 20.5h1M21 20.5h1M39 20.5h2M46 20.5h1M2 21.5h1M8 21.5h1M17 21.5h2M39 21.5h2M46 21.5h1M18 22.5h1M21 22.5h1M36 22.5h1M2 23.5h1M8 23.5h1M14 23.5h1M17 23.5h1M19 23.5h2M1 24.5h1M5 24.5h1M11 24.5h1M14 24.5h1M16 24.5h2M19 24.5h2M40 24.5h1M46 24.5h1M0 25.5h1M35 25.5h1M38 25.5h1M43 25.5h1M18 26.5h1M21 26.5h3M38 26.5h1M18 27.5h1M21 27.5h2M38 27.5h1M1 28.5h1M9 28.5h1M16 28.5h1M1 29.5h1M5 29.5h1M9 29.5h1M11 29.5h1M1 30.5h1M5 30.5h1M9 30.5h1M35 30.5h1M1 31.5h1M9 31.5h1M15 31.5h1M26 31.5h1M30 31.5h4M37 31.5h1M5 32.5h1M8 32.5h1M11 32.5h1M14 32.5h1M28 32.5h2M34 32.5h1M5 33.5h1M8 33.5h1M11 33.5h1M14 33.5h1M17 33.5h1M28 33.5h2M34 33.5h1M0 34.5h1M10 34.5h1M25 34.5h2M30 34.5h4M37 34.5h1M19 35.5h1M28 35.5h2M31 35.5h1M34 35.5h1M37 35.5h1M24 36.5h1M28 36.5h1M11 37.5h1M21 37.5h1M19 38.5h2M28 38.5h2M34 38.5h1M37 38.5h1M8 39.5h1M3 41.5h1M10 41.5h1M15 41.5h1M19 41.5h2M23 41.5h1M28 41.5h1M11 42.5h1M18 42.5h1M21 43.5h4M37 43.5h1M6 44.5h1M12 44.5h2M19 44.5h2M29 44.5h1M31 44.5h1M34 44.5h1M37 44.5h1M8 46.5h1M13 46.5h1M0 47.5h1M17 47.5h1M19 47.5h2M22 47.5h2M28 47.5h1M29 50.5h1M31 50.5h1M34 50.5h1M37 50.5h1M21 51.5h4M28 51.5h1M5 52.5h1M18 52.5h1M27 52.5h1"/>
<path class="sb" d="M39 2.5h1M42 2.5h2M46 2.5h1M47 3.5h2M38 4.5h2M41 4.5h2M49 4.5h1M38 5.5h1M42 5.5h2M49 5.5h1M35 6.5h1M44 6.5h1M50 6.5h1M44 7.5h1M38 8.5h2M45 8.5h2M25 9.5h2M28 9.5h8M41 9.5h1M47 9.5h1M50 9.5h1M38 10.5h1M43 10.5h1M47 10.5h2M38 11.5h1M43 11.5h1M47 11.5h2M50 11.5h1M35 12.5h1M42 12.5h2M48 12.5h1M35 13.5h1M37 13.5h1M44 13.5h1M47 13.5h2M50 13.5h1M28 14.5h8M42 14.5h1M44 14.5h1M47 14.5h2M22 15.5h6M36 15.5h1M31 16.5h2M34 16.5h1M37 16.5h1M23 17.5h4M28 17.5h3M33 17.5h1M38 17.5h3M43 17.5h1M46 17.5h1M18 18.5h1M21 18.5h1M36 18.5h1M38 18.5h1M43 18.5h1M22 19.5h6M35 19.5h1M38 19.5h1M43 19.5h1M22 20.5h6M36 20.5h1M38 20.5h1M43 20.5h1M21 21.5h2M36 21.5h1M38 21.5h1M43 21.5h1M22 22.5h3M26 22.5h2M32 22.5h2M35 22.5h1M38 22.5h1M43 22.5h1M18 23.5h1M21 23.5h1M35 23.5h1M38 23.5h1M43 23.5h1M2 24.5h1M8 24.5h1M18 24.5h1M21 24.5h1M35 24.5h1M38 24.5h1M43 24.5h1M1 25.5h1M3 25.5h3M9 25.5h3M15 25.5h1M25 25.5h2M32 25.5h2M37 25.5h1M27 26.5h1M32 26.5h2M35 26.5h1M37 26.5h1M43 26.5h1M23 27.5h1M27 27.5h1M32 27.5h2M35 27.5h1M37 27.5h1M43 27.5h1M2 28.5h1M5 28.5h1M8 28.5h1M11 28.5h1M14 28.5h1M17 28.5h1M19 28.5h2M32 28.5h2M35 28.5h1M37 28.5h1M2 29.5h1M8 29.5h1M14 29.5h1M16 29.5h2M19 29.5h2M25 29.5h2M30 29.5h1M32 29.5h2M35 29.5h1M37 29.5h1M2 30.5h1M8 30.5h1M11 30.5h1M14 30.5h1M16 30.5h2M19 30.5h1M25 30.5h2M30 30.5h4M37 30.5h1M2 31.5h1M5 31.5h1M8 31.5h1M11 31.5h1M14 31.5h1M16 31.5h2M25 31.5h1M28 31.5h2M34 31.5h1M23 32.5h2M22 33.5h3M27 33.5h1M1 34.5h5M9 34.5h1M11 34.5h1M15 34.5h2M28 34.5h2M34 34.5h1M5 35.5h1M11 35.5h1M21 35.5h4M5 36.5h1M11 36.5h1M18 36.5h1M21 36.5h3M5 37.5h1M18 37.5h1M27 37.5h1M11 38.5h1M21 38.5h4M5 39.5h1M11 39.5h1M5 40.5h2M8 40.5h1M1 41.5h2M4 41.5h1M6 41.5h1M9 41.5h1M13 41.5h2M16 41.5h3M21 41.5h2M24 41.5h1M27 41.5h1M0 42.5h1M5 42.5h1M17 42.5h1M27 42.5h1M0 43.5h1M5 43.5h1M11 43.5h1M18 43.5h1M27 43.5h1M0 44.5h1M21 44.5h4M28 44.5h1M5 46.5h1M11 46.5h2M3 47.5h2M6 47.5h1M9 47.5h2M12 47.5h5M18 47.5h1M21 47.5h1M24 47.5h1M27 47.5h1M5 48.5h1M11 48.5h1M18 48.5h1M27 48.5h1M5 49.5h1M11 49.5h1M18 49.5h1M27 49.5h1M11 50.5h1M18 50.5h1M21 50.5h4M28 50.5h1M11 51.5h1M18 51.5h1M27 51.5h1M8 52.5h3"/>
<path class="sc" d="M50 1.5h1M51 2.5h1M40 4.5h1M46 4.5h1M39 5.5h3M46 5.5h1M37 6.5h1M47 6.5h2M43 8.5h1M37 9.5h4M42 9.5h1M44 9.5h1M39 10.5h2M39 11.5h2M37 12.5h3M41 12.5h1M47 12.5h1M41 13.5h3M41 14.5h1M43 14.5h1M28 15.5h3M32 15.5h2M35 15.5h1M38 15.5h3M43 15.5h1M46 15.5h1M35 16.5h1M31 17.5h2M34 17.5h1M36 17.5h2M22 18.5h6M30 18.5h1M35 18.5h1M28 19.5h3M37 19.5h1M28 20.5h3M35 20.5h1M37 20.5h1M23 21.5h5M30 21.5h1M35 21.5h1M25 22.5h1M31 22.5h1M34 22.5h1M37 22.5h1M22 23.5h5M32 23.5h2M37 23.5h1M22 24.5h2M32 24.5h2M37 24.5h1M2 25.5h1M8 25.5h1M14 25.5h1M16 25.5h2M19 25.5h2M30 25.5h2M34 25.5h1M24 26.5h1M29 26.5h3M34 26.5h1M24 27.5h1M29 27.5h3M34 27.5h1M18 28.5h1M25 28.5h2M29 28.5h3M34 28.5h1M18 29.5h1M28 29.5h2M31 29.5h1M34 29.5h1M18 30.5h1M20 30.5h1M28 30.5h2M34 30.5h1M22 32.5h1M27 32.5h1M8 34.5h1M14 34.5h1M17 34.5h1M23 34.5h2M0 35.5h5M10 35.5h1M15 35.5h1M18 35.5h1M27 35.5h1M0 36.5h1M10 36.5h1M27 36.5h1M2 37.5h1M8 37.5h1M10 37.5h1M5 38.5h1M10 38.5h1M18 38.5h1M27 38.5h1M12 39.5h1M11 40.5h1M13 40.5h1M8 41.5h1M12 41.5h1M1 42.5h4M8 42.5h1M14 42.5h3M1 43.5h4M16 43.5h2M3 44.5h3M10 44.5h2M18 44.5h1M27 44.5h1M1 47.5h2M8 47.5h1M11 47.5h1M8 48.5h3M16 48.5h2M8 49.5h1M10 49.5h1M16 49.5h2M0 50.5h1M5 50.5h1M10 50.5h1M16 50.5h2M27 50.5h1M0 51.5h1M5 51.5h1M10 51.5h1M16 51.5h2M1 52.5h2M15 52.5h3"/>
<path class="sd" d="M47 4.5h1M48 5.5h1M38 6.5h6M46 9.5h1M41 10.5h1M46 10.5h1M42 11.5h1M46 11.5h1M46 12.5h1M38 13.5h1M40 13.5h1M46 13.5h1M37 14.5h1M39 14.5h2M46 14.5h1M31 15.5h1M34 15.5h1M28 18.5h2M31 18.5h3M37 18.5h1M31 19.5h2M34 19.5h1M31 20.5h1M33 20.5h2M28 21.5h2M32 21.5h3M37 21.5h1M28 22.5h2M27 23.5h2M30 23.5h2M34 23.5h1M24 24.5h4M29 24.5h3M34 24.5h1M18 25.5h1M21 25.5h4M28 25.5h2M25 26.5h1M28 26.5h1M26 27.5h1M28 27.5h1M21 28.5h3M27 28.5h2M21 29.5h2M24 29.5h1M27 29.5h1M21 30.5h1M23 30.5h2M27 30.5h1M18 31.5h3M22 31.5h3M27 31.5h1M18 32.5h2M21 32.5h1M18 33.5h1M20 33.5h2M19 34.5h4M27 34.5h1M8 35.5h2M14 35.5h1M16 35.5h1M1 36.5h4M8 36.5h2M14 36.5h2M17 36.5h1M0 37.5h2M3 37.5h2M9 37.5h1M14 37.5h1M16 37.5h2M0 38.5h5M8 38.5h2M15 38.5h3M5 41.5h1M9 42.5h1M8 43.5h1M10 43.5h1M14 43.5h2M1 44.5h2M9 44.5h1M14 44.5h4M0 48.5h4M14 48.5h2M0 49.5h3M4 49.5h1M9 49.5h1M14 49.5h2M1 50.5h1M3 50.5h2M8 50.5h2M14 50.5h2M2 51.5h3M8 51.5h2M14 51.5h2M3 52.5h2M14 52.5h1"/>
<path class="se" d="M52 0.5h1M51 1.5h1M50 2.5h1M49 3.5h1M48 4.5h1M47 5.5h1M46 6.5h1M45 7.5h1M44 8.5h1M43 9.5h1M42 10.5h1M41 11.5h1M40 12.5h1M39 13.5h1M38 14.5h1M37 15.5h1M36 16.5h1M35 17.5h1M34 18.5h1M33 19.5h1M32 20.5h1M31 21.5h1M30 22.5h1M29 23.5h1M28 24.5h1M27 25.5h1M26 26.5h1M25 27.5h1M24 28.5h1M23 29.5h1M22 30.5h1M21 31.5h1M20 32.5h1M19 33.5h1M18 34.5h1M17 35.5h1M16 36.5h1M15 37.5h1M14 38.5h1M13 39.5h1M12 40.5h1M11 41.5h1M10 42.5h1M9 43.5h1M8 44.5h1M7 45.5h1M6 46.5h1M5 47.5h1M4 48.5h1M3 49.5h1M2 50.5h1M1 51.5h1M0 52.5h1"/>
</g>
</g>
<rect x="84.15" y="701.30" width="559.95" height="559.55" fill="none" stroke="#000" stroke-width="1.95"/>
<path d="M89.78 1260.85V1269.35M84.15 1255.67H75.65" stroke="#000" stroke-width="1.95"/>
<text x="91.18" y="1298.55" text-anchor="middle" class="t" textLength="15.90" lengthAdjust="spacingAndGlyphs">0</text>
<text x="67.35" y="1265.67" text-anchor="end" class="t" textLength="15.90" lengthAdjust="spacingAndGlyphs">0</text>
<path d="M195.43 1260.85V1269.35M84.15 1150.10H75.65" stroke="#000" stroke-width="1.95"/>
<text x="197.08" y="1298.55" text-anchor="middle" class="t" textLength="31.80" lengthAdjust="spacingAndGlyphs">10</text>
<text x="67.35" y="1160.10" text-anchor="end" class="t" textLength="31.80" lengthAdjust="spacingAndGlyphs">10</text>
<path d="M301.08 1260.85V1269.35M84.15 1044.52H75.65" stroke="#000" stroke-width="1.95"/>
<text x="302.38" y="1298.55" text-anchor="middle" class="t" textLength="31.80" lengthAdjust="spacingAndGlyphs">20</text>
<text x="67.35" y="1054.52" text-anchor="end" class="t" textLength="31.80" lengthAdjust="spacingAndGlyphs">20</text>
<path d="M406.74 1260.85V1269.35M84.15 938.94H75.65" stroke="#000" stroke-width="1.95"/>
<text x="407.54" y="1298.55" text-anchor="middle" class="t" textLength="31.80" lengthAdjust="spacingAndGlyphs">30</text>
<text x="67.35" y="948.94" text-anchor="end" class="t" textLength="31.80" lengthAdjust="spacingAndGlyphs">30</text>
<path d="M512.39 1260.85V1269.35M84.15 833.37H75.65" stroke="#000" stroke-width="1.95"/>
<text x="513.79" y="1298.55" text-anchor="middle" class="t" textLength="31.80" lengthAdjust="spacingAndGlyphs">40</text>
<text x="67.35" y="843.37" text-anchor="end" class="t" textLength="31.80" lengthAdjust="spacingAndGlyphs">40</text>
<path d="M618.04 1260.85V1269.35M84.15 727.79H75.65" stroke="#000" stroke-width="1.95"/>
<text x="618.54" y="1298.55" text-anchor="middle" class="t" textLength="31.80" lengthAdjust="spacingAndGlyphs">50</text>
<text x="67.35" y="737.79" text-anchor="end" class="t" textLength="31.80" lengthAdjust="spacingAndGlyphs">50</text>
<text x="365.12" y="1333.55" text-anchor="middle" class="l" textLength="263" lengthAdjust="spacingAndGlyphs">Convolutional layers</text>
<text transform="translate(19.65,981.57) rotate(-90)" text-anchor="middle" class="l" textLength="263" lengthAdjust="spacingAndGlyphs">Convolutional layers</text>
<clipPath id="cpd"><rect x="809.05" y="701.40" width="560.05" height="559.45"/></clipPath>
<g clip-path="url(#cpd)">
<g transform="translate(808.76,700.00) scale(10.5883,10.5906)" stroke-width="1">
<path class="s1" d="M20 1.5h1M19 3.5h2M49 32.5h1M51 32.5h1M49 33.5h1"/>
<path class="s2" d="M20 0.5h1M19 1.5h1M21 1.5h2M21 3.5h2M49 30.5h1M51 30.5h1M49 31.5h1M51 31.5h1M52 32.5h1M51 33.5h1"/>
<path class="s3" d="M7 0.5h1M19 0.5h1M21 0.5h1M0 1.5h5M6 1.5h2M14 1.5h2M18 1.5h1M23 1.5h1M6 3.5h1M18 3.5h1M23 3.5h1M20 4.5h1M49 29.5h1M51 29.5h1M52 31.5h1M48 32.5h1M52 33.5h1M49 34.5h1M51 34.5h1M51 37.5h1M51 38.5h1M51 45.5h2M49 46.5h1M51 46.5h1M51 48.5h1M51 49.5h1M51 50.5h1M51 51.5h1M51 52.5h1"/>
<path class="s4" d="M6 0.5h1M22 0.5h1M5 1.5h1M8 1.5h6M16 1.5h2M24 1.5h1M27 1.5h1M20 2.5h1M0 3.5h1M7 3.5h1M24 3.5h1M33 3.5h1M19 4.5h1M20 5.5h1M49 19.5h1M51 25.5h1M49 28.5h1M51 28.5h1M52 30.5h1M47 32.5h1M50 32.5h1M48 33.5h1M51 35.5h1M51 36.5h1M51 39.5h1M51 40.5h1M51 41.5h1M51 42.5h1M51 43.5h1M51 44.5h1M49 45.5h1M52 46.5h1M51 47.5h1M49 52.5h1"/>
<path class="s5" d="M0 0.5h6M8 0.5h9M18 0.5h1M23 0.5h1M25 1.5h1M28 1.5h3M7 2.5h1M19 2.5h1M1 3.5h5M8 3.5h1M11 3.5h1M14 3.5h3M25 3.5h1M27 3.5h4M32 3.5h1M35 3.5h1M45 3.5h1M21 4.5h2M19 5.5h1M21 5.5h2M49 7.5h1M20 10.5h1M49 20.5h1M49 22.5h1M51 22.5h1M49 23.5h1M51 23.5h1M49 24.5h1M51 24.5h1M49 25.5h1M49 27.5h1M51 27.5h1M52 29.5h1M47 30.5h2M47 31.5h2M42 32.5h1M47 33.5h1M50 33.5h1M52 34.5h1M49 36.5h1M52 36.5h1M49 37.5h1M52 37.5h1M49 38.5h1M52 38.5h1M52 39.5h1M52 40.5h1M49 41.5h1M52 41.5h1M52 42.5h1M52 43.5h1M49 44.5h1M52 44.5h1M50 45.5h1M49 47.5h1M52 47.5h1M49 48.5h1M52 48.5h1M49 49.5h1M52 49.5h1M49 50.5h1M52 50.5h1M49 51.5h1M52 51.5h1M52 52.5h1"/>
<path class="s6" d="M17 0.5h1M24 0.5h4M26 1.5h1M31 1.5h6M45 1.5h1M0 2.5h5M6 2.5h1M8 2.5h3M14 2.5h3M18 2.5h1M21 2.5h3M9 3.5h2M12 3.5h2M17 3.5h1M26 3.5h1M31 3.5h1M34 3.5h1M36 3.5h1M6 4.5h2M18 4.5h1M23 4.5h1M6 5.5h2M18 5.5h1M23 5.5h1M7 10.5h1M19 10.5h1M21 10.5h2M19 11.5h2M19 13.5h2M49 16.5h1M51 16.5h1M49 17.5h1M51 17.5h1M49 18.5h1M51 18.5h1M51 19.5h1M51 20.5h1M49 21.5h1M51 21.5h1M52 25.5h1M49 26.5h1M51 26.5h2M52 27.5h1M52 28.5h1M47 29.5h2M50 29.5h1M42 30.5h1M50 30.5h1M42 31.5h1M50 31.5h1M39 32.5h1M41 32.5h1M39 33.5h1M41 33.5h2M47 34.5h2M50 34.5h1M49 35.5h1M52 35.5h1M50 36.5h1M50 37.5h1M50 38.5h1M49 39.5h1M49 40.5h1M49 42.5h2M49 43.5h2M50 44.5h1M42 45.5h1M47 45.5h2M47 46.5h2M50 46.5h1M50 48.5h1M50 49.5h1M50 50.5h1M50 51.5h1M50 52.5h1"/>
<path class="s7" d="M28 0.5h10M45 0.5h1M49 0.5h1M37 1.5h1M49 1.5h1M5 2.5h1M11 2.5h3M17 2.5h1M24 2.5h2M27 2.5h1M37 3.5h1M51 3.5h2M0 4.5h6M13 4.5h4M24 4.5h2M0 5.5h2M4 5.5h1M19 6.5h2M7 7.5h1M19 7.5h2M51 7.5h2M7 8.5h1M19 8.5h2M6 10.5h1M18 10.5h1M23 10.5h1M6 11.5h2M21 11.5h2M19 12.5h2M7 13.5h1M21 13.5h2M49 15.5h1M51 15.5h1M7 16.5h1M52 16.5h1M52 17.5h1M52 18.5h1M52 19.5h1M52 20.5h1M52 21.5h1M52 22.5h1M52 23.5h1M52 24.5h1M50 25.5h1M48 27.5h1M50 27.5h1M48 28.5h1M50 28.5h1M42 29.5h1M39 30.5h1M41 30.5h1M39 31.5h1M41 31.5h1M7 32.5h1M40 32.5h1M44 32.5h3M40 33.5h1M44 33.5h3M42 34.5h1M50 35.5h1M48 36.5h1M48 37.5h1M48 38.5h1M48 39.5h1M50 39.5h1M50 40.5h1M50 41.5h1M20 45.5h1M36 45.5h1M39 45.5h1M41 45.5h1M44 45.5h2M41 46.5h2M48 47.5h1M50 47.5h1M47 48.5h2M48 49.5h1M48 50.5h1M47 51.5h2M47 52.5h2"/>
<path class="s8" d="M40 0.5h1M38 1.5h4M43 1.5h1M46 1.5h1M26 2.5h1M28 2.5h8M45 2.5h1M49 2.5h1M43 3.5h2M50 3.5h1M8 4.5h5M17 4.5h1M26 4.5h11M45 4.5h1M2 5.5h2M5 5.5h1M8 5.5h10M24 5.5h7M33 5.5h1M35 5.5h2M45 5.5h1M7 6.5h1M21 6.5h2M6 7.5h1M18 7.5h1M21 7.5h3M25 7.5h2M39 7.5h1M47 7.5h2M50 7.5h1M6 8.5h1M18 8.5h1M21 8.5h3M49 8.5h1M7 9.5h1M20 9.5h1M49 9.5h1M0 10.5h6M14 10.5h3M24 10.5h2M27 10.5h1M18 11.5h1M23 11.5h1M7 12.5h1M18 12.5h1M21 12.5h2M51 12.5h1M0 13.5h7M8 13.5h3M14 13.5h3M18 13.5h1M23 13.5h1M45 13.5h1M51 13.5h1M7 14.5h1M19 14.5h2M51 14.5h1M7 15.5h1M52 15.5h1M0 16.5h3M4 16.5h1M9 16.5h2M15 16.5h1M47 16.5h2M7 17.5h1M47 17.5h2M7 18.5h1M48 18.5h1M50 18.5h1M7 19.5h1M47 19.5h2M50 19.5h1M7 20.5h1M48 20.5h1M50 20.5h1M7 21.5h1M48 21.5h1M50 21.5h1M7 22.5h1M47 22.5h2M50 22.5h1M7 23.5h1M47 23.5h2M50 23.5h1M47 24.5h2M50 24.5h1M42 25.5h1M47 25.5h2M0 26.5h5M7 26.5h1M9 26.5h2M14 26.5h2M45 26.5h1M47 26.5h2M50 26.5h1M0 27.5h5M7 27.5h4M14 27.5h4M42 27.5h1M45 27.5h1M47 27.5h1M42 28.5h1M47 28.5h1M7 29.5h1M39 29.5h1M41 29.5h1M44 29.5h2M7 30.5h1M40 30.5h1M44 30.5h3M7 31.5h1M40 31.5h1M44 31.5h3M0 32.5h3M4 32.5h1M9 32.5h2M14 32.5h2M38 32.5h1M43 32.5h1M7 33.5h1M38 33.5h1M7 34.5h1M39 34.5h3M44 34.5h2M25 35.5h1M47 35.5h2M25 36.5h1M39 36.5h1M42 36.5h1M47 36.5h1M20 37.5h1M25 37.5h2M36 37.5h1M39 37.5h1M42 37.5h1M47 37.5h1M20 38.5h1M25 38.5h2M39 38.5h1M42 38.5h1M47 38.5h1M47 39.5h1M47 40.5h2M47 41.5h2M20 42.5h1M25 42.5h2M36 42.5h1M39 42.5h1M47 42.5h2M20 43.5h1M25 43.5h2M36 43.5h1M39 43.5h1M47 43.5h2M25 44.5h1M39 44.5h1M47 44.5h2M18 45.5h2M21 45.5h3M25 45.5h2M29 45.5h7M37 45.5h2M40 45.5h1M43 45.5h1M46 45.5h1M39 46.5h1M44 46.5h2M39 47.5h1M42 47.5h1M47 47.5h1M20 48.5h1M25 48.5h2M36 48.5h1M39 48.5h1M42 48.5h1M25 49.5h2M39 49.5h1M42 49.5h1M47 49.5h1M20 50.5h1M25 50.5h2M36 50.5h1M39 50.5h1M42 50.5h1M47 50.5h1M20 51.5h1M25 51.5h2M36 51.5h1M39 51.5h1M42 51.5h1M20 52.5h1M25 52.5h2M36 52.5h1M39 52.5h1M42 52.5h1"/>
<path class="s9" d="M38 0.5h2M41 0.5h4M46 0.5h3M42 1.5h1M44 1.5h1M47 1.5h2M36 2.5h1M38 3.5h5M37 4.5h1M51 4.5h2M31 5.5h2M34 5.5h1M37 5.5h1M51 5.5h2M6 6.5h1M18 6.5h1M23 6.5h1M25 6.5h1M51 6.5h2M0 7.5h6M8 7.5h10M24 7.5h1M27 7.5h3M31 7.5h3M35 7.5h4M40 7.5h3M0 8.5h6M8 8.5h10M24 8.5h1M51 8.5h2M6 9.5h1M19 9.5h1M21 9.5h2M51 9.5h2M8 10.5h6M17 10.5h1M26 10.5h1M28 10.5h7M45 10.5h1M51 10.5h2M0 11.5h6M8 11.5h4M14 11.5h3M24 11.5h4M29 11.5h1M33 11.5h1M45 11.5h1M49 11.5h1M51 11.5h2M6 12.5h1M23 12.5h1M25 12.5h1M33 12.5h1M45 12.5h1M52 12.5h1M11 13.5h3M17 13.5h1M24 13.5h7M33 13.5h1M52 13.5h1M0 14.5h5M6 14.5h1M9 14.5h2M14 14.5h3M18 14.5h1M21 14.5h2M45 14.5h1M49 14.5h1M52 14.5h1M45 15.5h1M47 15.5h2M3 16.5h1M5 16.5h2M8 16.5h1M11 16.5h4M16 16.5h2M19 16.5h2M45 16.5h1M50 16.5h1M0 17.5h5M9 17.5h2M14 17.5h3M42 17.5h1M45 17.5h1M50 17.5h1M42 18.5h1M47 18.5h1M0 19.5h5M8 19.5h3M14 19.5h3M39 19.5h4M45 19.5h1M0 20.5h3M4 20.5h1M9 20.5h2M14 20.5h2M42 20.5h1M45 20.5h1M47 20.5h1M42 21.5h1M45 21.5h1M47 21.5h1M39 22.5h1M42 22.5h1M39 23.5h1M41 23.5h2M45 23.5h1M7 24.5h1M39 24.5h1M42 24.5h1M45 24.5h1M7 25.5h1M39 25.5h1M41 25.5h1M45 25.5h1M8 26.5h1M16 26.5h2M20 26.5h1M39 26.5h1M41 26.5h2M5 27.5h1M11 27.5h1M20 27.5h1M39 27.5h3M46 27.5h1M7 28.5h1M39 28.5h1M41 28.5h1M44 28.5h2M9 29.5h2M15 29.5h1M40 29.5h1M46 29.5h1M0 30.5h3M4 30.5h1M9 30.5h2M14 30.5h2M38 30.5h1M43 30.5h1M0 31.5h3M4 31.5h1M9 31.5h2M14 31.5h2M38 31.5h1M43 31.5h1M3 32.5h1M8 32.5h1M13 32.5h1M16 32.5h2M25 32.5h2M36 32.5h1M0 33.5h5M8 33.5h3M14 33.5h3M25 33.5h2M36 33.5h1M43 33.5h1M25 34.5h1M38 34.5h1M46 34.5h1M20 35.5h1M26 35.5h1M36 35.5h1M39 35.5h1M42 35.5h1M44 35.5h2M19 36.5h2M26 36.5h1M33 36.5h1M35 36.5h2M38 36.5h1M41 36.5h1M44 36.5h2M7 37.5h1M19 37.5h1M21 37.5h3M32 37.5h2M35 37.5h1M38 37.5h1M41 37.5h1M44 37.5h2M7 38.5h1M19 38.5h1M21 38.5h2M32 38.5h2M35 38.5h2M38 38.5h1M41 38.5h1M44 38.5h2M20 39.5h1M36 39.5h1M39 39.5h1M42 39.5h1M44 39.5h2M36 40.5h1M39 40.5h1M42 40.5h1M44 40.5h2M25 41.5h1M36 41.5h1M39 41.5h1M41 41.5h2M44 41.5h2M7 42.5h1M19 42.5h1M21 42.5h3M32 42.5h2M35 42.5h1M38 42.5h1M41 42.5h2M44 42.5h2M6 43.5h2M19 43.5h1M21 43.5h3M32 43.5h2M35 43.5h1M38 43.5h1M41 43.5h2M44 43.5h2M19 44.5h2M26 44.5h1M33 44.5h1M36 44.5h1M41 44.5h2M44 44.5h2M0 45.5h5M8 45.5h3M14 45.5h4M24 45.5h1M27 45.5h2M9 46.5h1M15 46.5h1M36 46.5h1M38 46.5h1M40 46.5h1M43 46.5h1M46 46.5h1M25 47.5h1M36 47.5h1M41 47.5h1M44 47.5h2M7 48.5h1M19 48.5h1M21 48.5h2M32 48.5h2M35 48.5h1M38 48.5h1M41 48.5h1M44 48.5h2M7 49.5h1M19 49.5h2M33 49.5h1M35 49.5h2M38 49.5h1M41 49.5h1M44 49.5h2M7 50.5h1M19 50.5h1M21 50.5h2M32 50.5h2M35 50.5h1M38 50.5h1M41 50.5h1M44 50.5h2M7 51.5h1M19 51.5h1M21 51.5h2M32 51.5h2M35 51.5h1M38 51.5h1M41 51.5h1M44 51.5h2M7 52.5h1M19 52.5h1M21 52.5h2M32 52.5h2M35 52.5h1M38 52.5h1M41 52.5h1M44 52.5h2"/>
<path class="sa" d="M51 0.5h1M52 1.5h1M37 2.5h2M40 2.5h2M43 2.5h2M47 2.5h1M52 2.5h1M46 3.5h1M0 6.5h2M4 6.5h2M14 6.5h3M24 6.5h1M26 6.5h1M33 6.5h1M45 6.5h1M49 6.5h1M30 7.5h1M34 7.5h1M46 7.5h1M25 8.5h3M0 9.5h5M8 9.5h3M14 9.5h3M18 9.5h1M23 9.5h1M35 10.5h2M49 10.5h1M12 11.5h2M17 11.5h1M28 11.5h1M30 11.5h3M34 11.5h3M50 11.5h1M0 12.5h6M8 12.5h4M14 12.5h3M24 12.5h1M26 12.5h5M32 12.5h1M35 12.5h2M49 12.5h2M31 13.5h2M34 13.5h1M49 13.5h2M5 14.5h1M8 14.5h1M11 14.5h3M17 14.5h1M23 14.5h1M50 14.5h1M0 15.5h3M4 15.5h1M6 15.5h1M8 15.5h3M14 15.5h3M19 15.5h2M50 15.5h1M18 16.5h1M21 16.5h2M41 16.5h2M5 17.5h2M8 17.5h1M11 17.5h3M17 17.5h1M19 17.5h2M41 17.5h1M9 18.5h2M39 18.5h1M41 18.5h1M45 18.5h1M5 19.5h2M11 19.5h3M17 19.5h1M46 19.5h1M3 20.5h1M5 20.5h2M8 20.5h1M11 20.5h1M16 20.5h2M39 20.5h3M0 21.5h3M4 21.5h1M9 21.5h2M15 21.5h1M39 21.5h1M41 21.5h1M9 22.5h2M15 22.5h1M40 22.5h2M45 22.5h1M9 23.5h2M15 23.5h1M40 23.5h1M40 24.5h2M40 25.5h1M44 25.5h1M5 26.5h2M11 26.5h3M18 26.5h2M21 26.5h3M40 26.5h1M44 26.5h1M46 26.5h1M6 27.5h1M12 27.5h2M18 27.5h2M21 27.5h3M44 27.5h1M4 28.5h1M9 28.5h2M15 28.5h1M40 28.5h1M46 28.5h1M0 29.5h5M8 29.5h1M14 29.5h1M16 29.5h1M25 29.5h2M38 29.5h1M43 29.5h1M3 30.5h1M8 30.5h1M16 30.5h2M25 30.5h2M36 30.5h1M3 31.5h1M8 31.5h1M16 31.5h2M25 31.5h2M36 31.5h1M5 32.5h1M11 32.5h2M35 32.5h1M37 32.5h1M5 33.5h1M11 33.5h3M17 33.5h1M35 33.5h1M37 33.5h1M9 34.5h2M15 34.5h1M26 34.5h1M36 34.5h1M43 34.5h1M7 35.5h1M19 35.5h1M21 35.5h2M32 35.5h2M35 35.5h1M38 35.5h1M41 35.5h1M7 36.5h1M21 36.5h3M32 36.5h1M37 36.5h1M40 36.5h1M43 36.5h1M46 36.5h1M6 37.5h1M18 37.5h1M24 37.5h1M29 37.5h3M37 37.5h1M40 37.5h1M43 37.5h1M46 37.5h1M6 38.5h1M23 38.5h1M37 38.5h1M40 38.5h1M43 38.5h1M46 38.5h1M7 39.5h1M19 39.5h1M25 39.5h2M33 39.5h1M35 39.5h1M38 39.5h1M41 39.5h1M7 40.5h1M19 40.5h2M25 40.5h2M33 40.5h1M35 40.5h1M38 40.5h1M41 40.5h1M7 41.5h1M19 41.5h2M26 41.5h1M32 41.5h2M35 41.5h1M38 41.5h1M40 41.5h1M6 42.5h1M18 42.5h1M24 42.5h1M29 42.5h3M34 42.5h1M37 42.5h1M40 42.5h1M43 42.5h1M18 43.5h1M24 43.5h1M29 43.5h3M34 43.5h1M37 43.5h1M40 43.5h1M43 43.5h1M7 44.5h1M21 44.5h3M32 44.5h1M35 44.5h1M37 44.5h2M40 44.5h1M43 44.5h1M11 45.5h3M0 46.5h5M10 46.5h1M14 46.5h1M16 46.5h1M25 46.5h2M32 46.5h2M35 46.5h1M37 46.5h1M19 47.5h2M26 47.5h1M32 47.5h2M35 47.5h1M38 47.5h1M40 47.5h1M46 47.5h1M6 48.5h1M23 48.5h2M31 48.5h1M37 48.5h1M40 48.5h1M43 48.5h1M46 48.5h1M6 49.5h1M21 49.5h3M32 49.5h1M40 49.5h1M43 49.5h1M6 50.5h1M23 50.5h1M31 50.5h1M37 50.5h1M40 50.5h1M43 50.5h1M6 51.5h1M23 51.5h1M31 51.5h1M37 51.5h1M40 51.5h1M43 51.5h1M46 51.5h1M6 52.5h1M23 52.5h1M31 52.5h1M37 52.5h1M40 52.5h1M43 52.5h1M46 52.5h1"/>
<path class="sb" d="M50 0.5h1M39 2.5h1M42 2.5h1M46 2.5h1M48 2.5h1M47 3.5h2M38 4.5h2M43 4.5h2M49 4.5h2M38 5.5h2M43 5.5h2M49 5.5h2M2 6.5h2M8 6.5h6M17 6.5h1M27 6.5h6M34 6.5h3M50 6.5h1M43 7.5h2M28 8.5h10M45 8.5h1M47 8.5h2M50 8.5h1M5 9.5h1M11 9.5h3M17 9.5h1M24 9.5h4M45 9.5h1M47 9.5h2M50 9.5h1M37 10.5h1M50 10.5h1M37 11.5h1M12 12.5h2M17 12.5h1M31 12.5h1M34 12.5h1M44 12.5h1M35 13.5h2M44 13.5h1M24 14.5h4M30 14.5h1M33 14.5h1M47 14.5h2M3 15.5h1M5 15.5h1M11 15.5h3M17 15.5h2M21 15.5h2M25 15.5h2M41 15.5h2M44 15.5h1M23 16.5h1M25 16.5h3M39 16.5h2M44 16.5h1M46 16.5h1M18 17.5h1M21 17.5h2M25 17.5h2M39 17.5h2M44 17.5h1M46 17.5h1M0 18.5h7M8 18.5h1M14 18.5h4M19 18.5h2M25 18.5h2M40 18.5h1M44 18.5h1M46 18.5h1M18 19.5h5M25 19.5h2M38 19.5h1M44 19.5h1M12 20.5h2M18 20.5h5M25 20.5h1M44 20.5h1M46 20.5h1M3 21.5h1M5 21.5h2M8 21.5h1M11 21.5h4M16 21.5h7M25 21.5h1M40 21.5h1M44 21.5h1M46 21.5h1M0 22.5h7M8 22.5h1M14 22.5h1M16 22.5h8M38 22.5h1M44 22.5h1M46 22.5h1M0 23.5h5M6 23.5h1M8 23.5h1M14 23.5h1M16 23.5h2M20 23.5h1M44 23.5h1M46 23.5h1M0 24.5h5M9 24.5h2M14 24.5h2M20 24.5h1M44 24.5h1M46 24.5h1M25 25.5h2M36 25.5h1M38 25.5h1M43 25.5h1M46 25.5h1M27 26.5h1M33 26.5h6M43 26.5h1M27 27.5h1M33 27.5h6M43 27.5h1M0 28.5h4M8 28.5h1M14 28.5h1M16 28.5h2M38 28.5h1M43 28.5h1M5 29.5h2M11 29.5h3M17 29.5h1M36 29.5h1M5 30.5h2M11 30.5h3M30 30.5h4M35 30.5h1M37 30.5h1M5 31.5h2M11 31.5h3M30 31.5h4M35 31.5h1M37 31.5h1M6 32.5h1M28 32.5h7M6 33.5h1M30 33.5h5M0 34.5h5M8 34.5h1M14 34.5h1M16 34.5h1M35 34.5h1M37 34.5h1M6 35.5h1M23 35.5h2M29 35.5h3M34 35.5h1M37 35.5h1M40 35.5h1M43 35.5h1M46 35.5h1M6 36.5h1M18 36.5h1M24 36.5h1M29 36.5h3M34 36.5h1M28 37.5h1M34 37.5h1M18 38.5h1M24 38.5h1M28 38.5h4M34 38.5h1M6 39.5h1M21 39.5h3M31 39.5h2M37 39.5h1M40 39.5h1M43 39.5h1M46 39.5h1M6 40.5h1M21 40.5h3M31 40.5h2M37 40.5h1M40 40.5h1M43 40.5h1M46 40.5h1M21 41.5h3M31 41.5h1M37 41.5h1M43 41.5h1M46 41.5h1M28 42.5h1M46 42.5h1M28 43.5h1M46 43.5h1M6 44.5h1M18 44.5h1M24 44.5h1M29 44.5h3M34 44.5h1M46 44.5h1M5 45.5h2M7 46.5h2M12 46.5h2M17 46.5h1M19 46.5h5M29 46.5h3M34 46.5h1M7 47.5h1M21 47.5h3M30 47.5h2M34 47.5h1M37 47.5h1M43 47.5h1M18 48.5h1M28 48.5h3M34 48.5h1M18 49.5h1M24 49.5h1M28 49.5h4M34 49.5h1M37 49.5h1M46 49.5h1M18 50.5h1M24 50.5h1M28 50.5h3M34 50.5h1M46 50.5h1M18 51.5h1M24 51.5h1M28 51.5h3M34 51.5h1M18 52.5h1M24 52.5h1M28 52.5h3M34 52.5h1"/>
<path class="sc" d="M50 1.5h1M51 2.5h1M40 4.5h3M46 4.5h1M37 6.5h1M44 6.5h1M47 6.5h2M38 8.5h5M46 8.5h1M28 9.5h9M39 9.5h4M38 10.5h2M43 10.5h2M48 10.5h1M38 11.5h2M43 11.5h2M48 11.5h1M37 12.5h1M39 12.5h1M43 12.5h1M48 12.5h1M37 13.5h1M40 13.5h4M47 13.5h2M28 14.5h2M31 14.5h2M34 14.5h3M41 14.5h2M44 14.5h1M23 15.5h2M27 15.5h4M32 15.5h2M39 15.5h2M43 15.5h1M46 15.5h1M24 16.5h1M28 16.5h6M37 16.5h2M43 16.5h1M23 17.5h2M27 17.5h4M33 17.5h1M37 17.5h2M43 17.5h1M11 18.5h3M18 18.5h1M21 18.5h3M38 18.5h1M43 18.5h1M23 19.5h2M27 19.5h1M35 19.5h3M43 19.5h1M23 20.5h1M26 20.5h2M36 20.5h3M43 20.5h1M23 21.5h1M26 21.5h1M36 21.5h1M38 21.5h1M43 21.5h1M11 22.5h3M25 22.5h2M35 22.5h3M43 22.5h1M5 23.5h1M11 23.5h3M19 23.5h1M21 23.5h3M25 23.5h2M35 23.5h4M43 23.5h1M5 24.5h2M8 24.5h1M11 24.5h3M16 24.5h2M19 24.5h1M21 24.5h3M25 24.5h2M35 24.5h4M43 24.5h1M0 25.5h5M6 25.5h1M8 25.5h3M14 25.5h3M19 25.5h2M32 25.5h2M35 25.5h1M37 25.5h1M24 26.5h1M28 26.5h5M24 27.5h1M28 27.5h5M5 28.5h2M11 28.5h3M19 28.5h2M25 28.5h2M33 28.5h1M35 28.5h3M30 29.5h4M35 29.5h1M37 29.5h1M28 30.5h2M34 30.5h1M28 31.5h2M34 31.5h1M24 32.5h1M27 32.5h1M24 33.5h1M27 33.5h3M5 34.5h2M11 34.5h3M17 34.5h1M24 34.5h1M28 34.5h7M18 35.5h1M28 35.5h1M27 36.5h2M27 37.5h1M27 38.5h1M18 39.5h1M24 39.5h1M28 39.5h3M34 39.5h1M18 40.5h1M24 40.5h1M28 40.5h3M34 40.5h1M6 41.5h1M18 41.5h1M24 41.5h1M28 41.5h3M34 41.5h1M27 42.5h1M27 43.5h1M27 44.5h2M5 46.5h1M11 46.5h1M18 46.5h1M24 46.5h1M27 46.5h2M6 47.5h1M18 47.5h1M24 47.5h1M28 47.5h2M27 48.5h1M27 49.5h1M27 50.5h1M27 51.5h1M27 52.5h1"/>
<path class="sd" d="M47 4.5h1M40 5.5h3M46 5.5h1M48 5.5h1M38 6.5h2M41 6.5h3M43 8.5h1M37 9.5h2M44 9.5h1M46 9.5h1M40 10.5h2M46 10.5h2M40 11.5h1M42 11.5h1M46 11.5h2M38 12.5h1M41 12.5h2M46 12.5h2M38 13.5h1M46 13.5h1M37 14.5h1M39 14.5h2M43 14.5h1M46 14.5h1M31 15.5h1M34 15.5h3M38 15.5h1M34 16.5h2M31 17.5h2M34 17.5h1M36 17.5h1M24 18.5h1M27 18.5h7M35 18.5h3M28 19.5h5M34 19.5h1M24 20.5h1M28 20.5h4M33 20.5h3M24 21.5h1M27 21.5h4M32 21.5h4M37 21.5h1M24 22.5h1M27 22.5h3M31 22.5h4M18 23.5h1M24 23.5h1M27 23.5h2M30 23.5h5M18 24.5h1M24 24.5h1M27 24.5h1M29 24.5h6M5 25.5h1M11 25.5h3M17 25.5h2M21 25.5h4M28 25.5h4M34 25.5h1M25 26.5h1M26 27.5h1M18 28.5h1M21 28.5h3M27 28.5h6M34 28.5h1M18 29.5h4M24 29.5h1M27 29.5h3M34 29.5h1M18 30.5h3M24 30.5h1M27 30.5h1M18 31.5h2M23 31.5h2M27 31.5h1M18 32.5h2M21 32.5h3M18 33.5h1M20 33.5h4M19 34.5h5M27 34.5h1M27 35.5h1M27 39.5h1M27 40.5h1M27 41.5h1M27 47.5h1"/>
<path class="se" d="M52 0.5h1M51 1.5h1M50 2.5h1M49 3.5h1M48 4.5h1M47 5.5h1M46 6.5h1M45 7.5h1M44 8.5h1M43 9.5h1M42 10.5h1M41 11.5h1M40 12.5h1M39 13.5h1M38 14.5h1M37 15.5h1M36 16.5h1M35 17.5h1M34 18.5h1M33 19.5h1M32 20.5h1M31 21.5h1M30 22.5h1M29 23.5h1M28 24.5h1M27 25.5h1M26 26.5h1M25 27.5h1M24 28.5h1M23 29.5h1M22 30.5h1M21 31.5h1M20 32.5h1M19 33.5h1M18 34.5h1M17 35.5h1M16 36.5h1M15 37.5h1M14 38.5h1M13 39.5h1M12 40.5h1M11 41.5h1M10 42.5h1M9 43.5h1M8 44.5h1M7 45.5h1M6 46.5h1M5 47.5h1M4 48.5h1M3 49.5h1M2 50.5h1M1 51.5h1M0 52.5h1"/>
<path class="sf" d="M11 35.5h3M11 36.5h3M5 37.5h1M11 37.5h3M11 38.5h3M0 39.5h6M8 39.5h3M14 39.5h4M0 40.5h5M9 40.5h2M14 40.5h4M0 41.5h5M8 41.5h3M14 41.5h4M5 42.5h1M11 42.5h3M5 43.5h1M11 43.5h3M11 44.5h3M0 47.5h5M8 47.5h3M13 47.5h1M15 47.5h3M11 48.5h3M11 49.5h3M5 50.5h1M11 50.5h3M5 51.5h1M11 51.5h3M5 52.5h1M11 52.5h3"/>
<path class="sg" d="M40 6.5h1M22 29.5h1M21 30.5h1M23 30.5h1M20 31.5h1M22 31.5h1M0 35.5h6M8 35.5h3M14 35.5h3M0 36.5h6M8 36.5h3M14 36.5h2M17 36.5h1M0 37.5h5M8 37.5h3M14 37.5h1M16 37.5h2M0 38.5h6M8 38.5h3M15 38.5h3M11 39.5h2M5 40.5h1M8 40.5h1M11 40.5h1M13 40.5h1M5 41.5h1M12 41.5h2M0 42.5h5M8 42.5h2M14 42.5h4M0 43.5h5M8 43.5h1M10 43.5h1M14 43.5h4M0 44.5h6M9 44.5h2M14 44.5h4M11 47.5h2M14 47.5h1M0 48.5h4M5 48.5h1M8 48.5h3M14 48.5h4M0 49.5h3M4 49.5h2M8 49.5h3M14 49.5h4M0 50.5h2M3 50.5h2M8 50.5h3M14 50.5h4M0 51.5h1M2 51.5h3M8 51.5h3M14 51.5h4M1 52.5h4M8 52.5h3M14 52.5h4"/>
</g>
</g>
<rect x="809.05" y="701.40" width="560.05" height="559.45" fill="none" stroke="#000" stroke-width="1.95"/>
<path d="M814.68 1260.85V1269.35M809.05 1255.67H800.55" stroke="#000" stroke-width="1.95"/>
<text x="816.08" y="1298.55" text-anchor="middle" class="t" textLength="15.90" lengthAdjust="spacingAndGlyphs">0</text>
<text x="792.25" y="1265.67" text-anchor="end" class="t" textLength="15.90" lengthAdjust="spacingAndGlyphs">0</text>
<path d="M920.35 1260.85V1269.35M809.05 1150.12H800.55" stroke="#000" stroke-width="1.95"/>
<text x="922.00" y="1298.55" text-anchor="middle" class="t" textLength="31.80" lengthAdjust="spacingAndGlyphs">10</text>
<text x="792.25" y="1160.12" text-anchor="end" class="t" textLength="31.80" lengthAdjust="spacingAndGlyphs">10</text>
<path d="M1026.02 1260.85V1269.35M809.05 1044.56H800.55" stroke="#000" stroke-width="1.95"/>
<text x="1027.32" y="1298.55" text-anchor="middle" class="t" textLength="31.80" lengthAdjust="spacingAndGlyphs">20</text>
<text x="792.25" y="1054.56" text-anchor="end" class="t" textLength="31.80" lengthAdjust="spacingAndGlyphs">20</text>
<path d="M1131.69 1260.85V1269.35M809.05 939.00H800.55" stroke="#000" stroke-width="1.95"/>
<text x="1132.49" y="1298.55" text-anchor="middle" class="t" textLength="31.80" lengthAdjust="spacingAndGlyphs">30</text>
<text x="792.25" y="949.00" text-anchor="end" class="t" textLength="31.80" lengthAdjust="spacingAndGlyphs">30</text>
<path d="M1237.36 1260.85V1269.35M809.05 833.45H800.55" stroke="#000" stroke-width="1.95"/>
<text x="1238.76" y="1298.55" text-anchor="middle" class="t" textLength="31.80" lengthAdjust="spacingAndGlyphs">40</text>
<text x="792.25" y="843.45" text-anchor="end" class="t" textLength="31.80" lengthAdjust="spacingAndGlyphs">40</text>
<path d="M1343.03 1260.85V1269.35M809.05 727.89H800.55" stroke="#000" stroke-width="1.95"/>
<text x="1343.53" y="1298.55" text-anchor="middle" class="t" textLength="31.80" lengthAdjust="spacingAndGlyphs">50</text>
<text x="792.25" y="737.89" text-anchor="end" class="t" textLength="31.80" lengthAdjust="spacingAndGlyphs">50</text>
<text x="1090.07" y="1333.55" text-anchor="middle" class="l" textLength="263" lengthAdjust="spacingAndGlyphs">Convolutional layers</text>
<text transform="translate(744.55,981.62) rotate(-90)" text-anchor="middle" class="l" textLength="263" lengthAdjust="spacingAndGlyphs">Convolutional layers</text>
<defs><linearGradient id="cbg" x1="0" y1="1" x2="0" y2="0"><stop offset="0.0000" stop-color="#000004"/><stop offset="0.0314" stop-color="#030312"/><stop offset="0.0627" stop-color="#0a0822"/><stop offset="0.0941" stop-color="#130d34"/><stop offset="0.1255" stop-color="#1d1147"/><stop offset="0.1569" stop-color="#29115a"/><stop offset="0.1882" stop-color="#36106b"/><stop offset="0.2196" stop-color="#440f76"/><stop offset="0.2510" stop-color="#51127c"/><stop offset="0.2824" stop-color="#5d177f"/><stop offset="0.3137" stop-color="#6a1c81"/><stop offset="0.3451" stop-color="#762181"/><stop offset="0.3765" stop-color="#832681"/><stop offset="0.4078" stop-color="#902a81"/><stop offset="0.4392" stop-color="#9c2e7f"/><stop offset="0.4706" stop-color="#aa337d"/><stop offset="0.5020" stop-color="#b73779"/><stop offset="0.5333" stop-color="#c43c75"/><stop offset="0.5647" stop-color="#d0416f"/><stop offset="0.5961" stop-color="#dc4869"/><stop offset="0.6275" stop-color="#e75263"/><stop offset="0.6588" stop-color="#ef5d5e"/><stop offset="0.6902" stop-color="#f56b5c"/><stop offset="0.7216" stop-color="#f9795d"/><stop offset="0.7529" stop-color="#fc8961"/><stop offset="0.7843" stop-color="#fd9869"/><stop offset="0.8157" stop-color="#fea772"/><stop offset="0.8471" stop-color="#feb67c"/><stop offset="0.8784" stop-color="#fec488"/><stop offset="0.9098" stop-color="#fed395"/><stop offset="0.9412" stop-color="#fde2a3"/><stop offset="0.9725" stop-color="#fcf0b2"/><stop offset="1" stop-color="#fcfdbf"/></linearGradient></defs>
<rect x="1413.05" y="44.6" width="27.80" height="560.00" fill="url(#cbg)"/>
<rect x="1413.05" y="44.6" width="27.80" height="560.00" fill="none" stroke="#000" stroke-width="1.95"/>
<path d="M1440.85 604.60H1449.35" stroke="#000" stroke-width="1.95"/>
<text x="1459.85" y="613.90" class="t" textLength="41.00" lengthAdjust="spacingAndGlyphs">0.3</text>
<path d="M1440.85 524.60H1449.35" stroke="#000" stroke-width="1.95"/>
<text x="1459.85" y="533.90" class="t" textLength="41.00" lengthAdjust="spacingAndGlyphs">0.4</text>
<path d="M1440.85 444.60H1449.35" stroke="#000" stroke-width="1.95"/>
<text x="1459.85" y="453.90" class="t" textLength="41.00" lengthAdjust="spacingAndGlyphs">0.5</text>
<path d="M1440.85 364.60H1449.35" stroke="#000" stroke-width="1.95"/>
<text x="1459.85" y="373.90" class="t" textLength="41.00" lengthAdjust="spacingAndGlyphs">0.6</text>
<path d="M1440.85 284.60H1449.35" stroke="#000" stroke-width="1.95"/>
<text x="1459.85" y="293.90" class="t" textLength="41.00" lengthAdjust="spacingAndGlyphs">0.7</text>
<path d="M1440.85 204.60H1449.35" stroke="#000" stroke-width="1.95"/>
<text x="1459.85" y="213.90" class="t" textLength="41.00" lengthAdjust="spacingAndGlyphs">0.8</text>
<path d="M1440.85 124.60H1449.35" stroke="#000" stroke-width="1.95"/>
<text x="1459.85" y="133.90" class="t" textLength="41.00" lengthAdjust="spacingAndGlyphs">0.9</text>
<path d="M1440.85 44.60H1449.35" stroke="#000" stroke-width="1.95"/>
<text x="1459.85" y="53.90" class="t" textLength="41.00" lengthAdjust="spacingAndGlyphs">1.0</text>
<text transform="translate(0.4,45.6) scale(0.85,1)" class="L">a</text>
<text transform="translate(725,35.2) scale(1.0,1)" class="L">b</text>
<text transform="translate(0,683.0) scale(0.96,1)" class="L">c</text>
<text transform="translate(724.3,683.0) scale(1.0,1)" class="L">d</text>
</svg></body></html>
